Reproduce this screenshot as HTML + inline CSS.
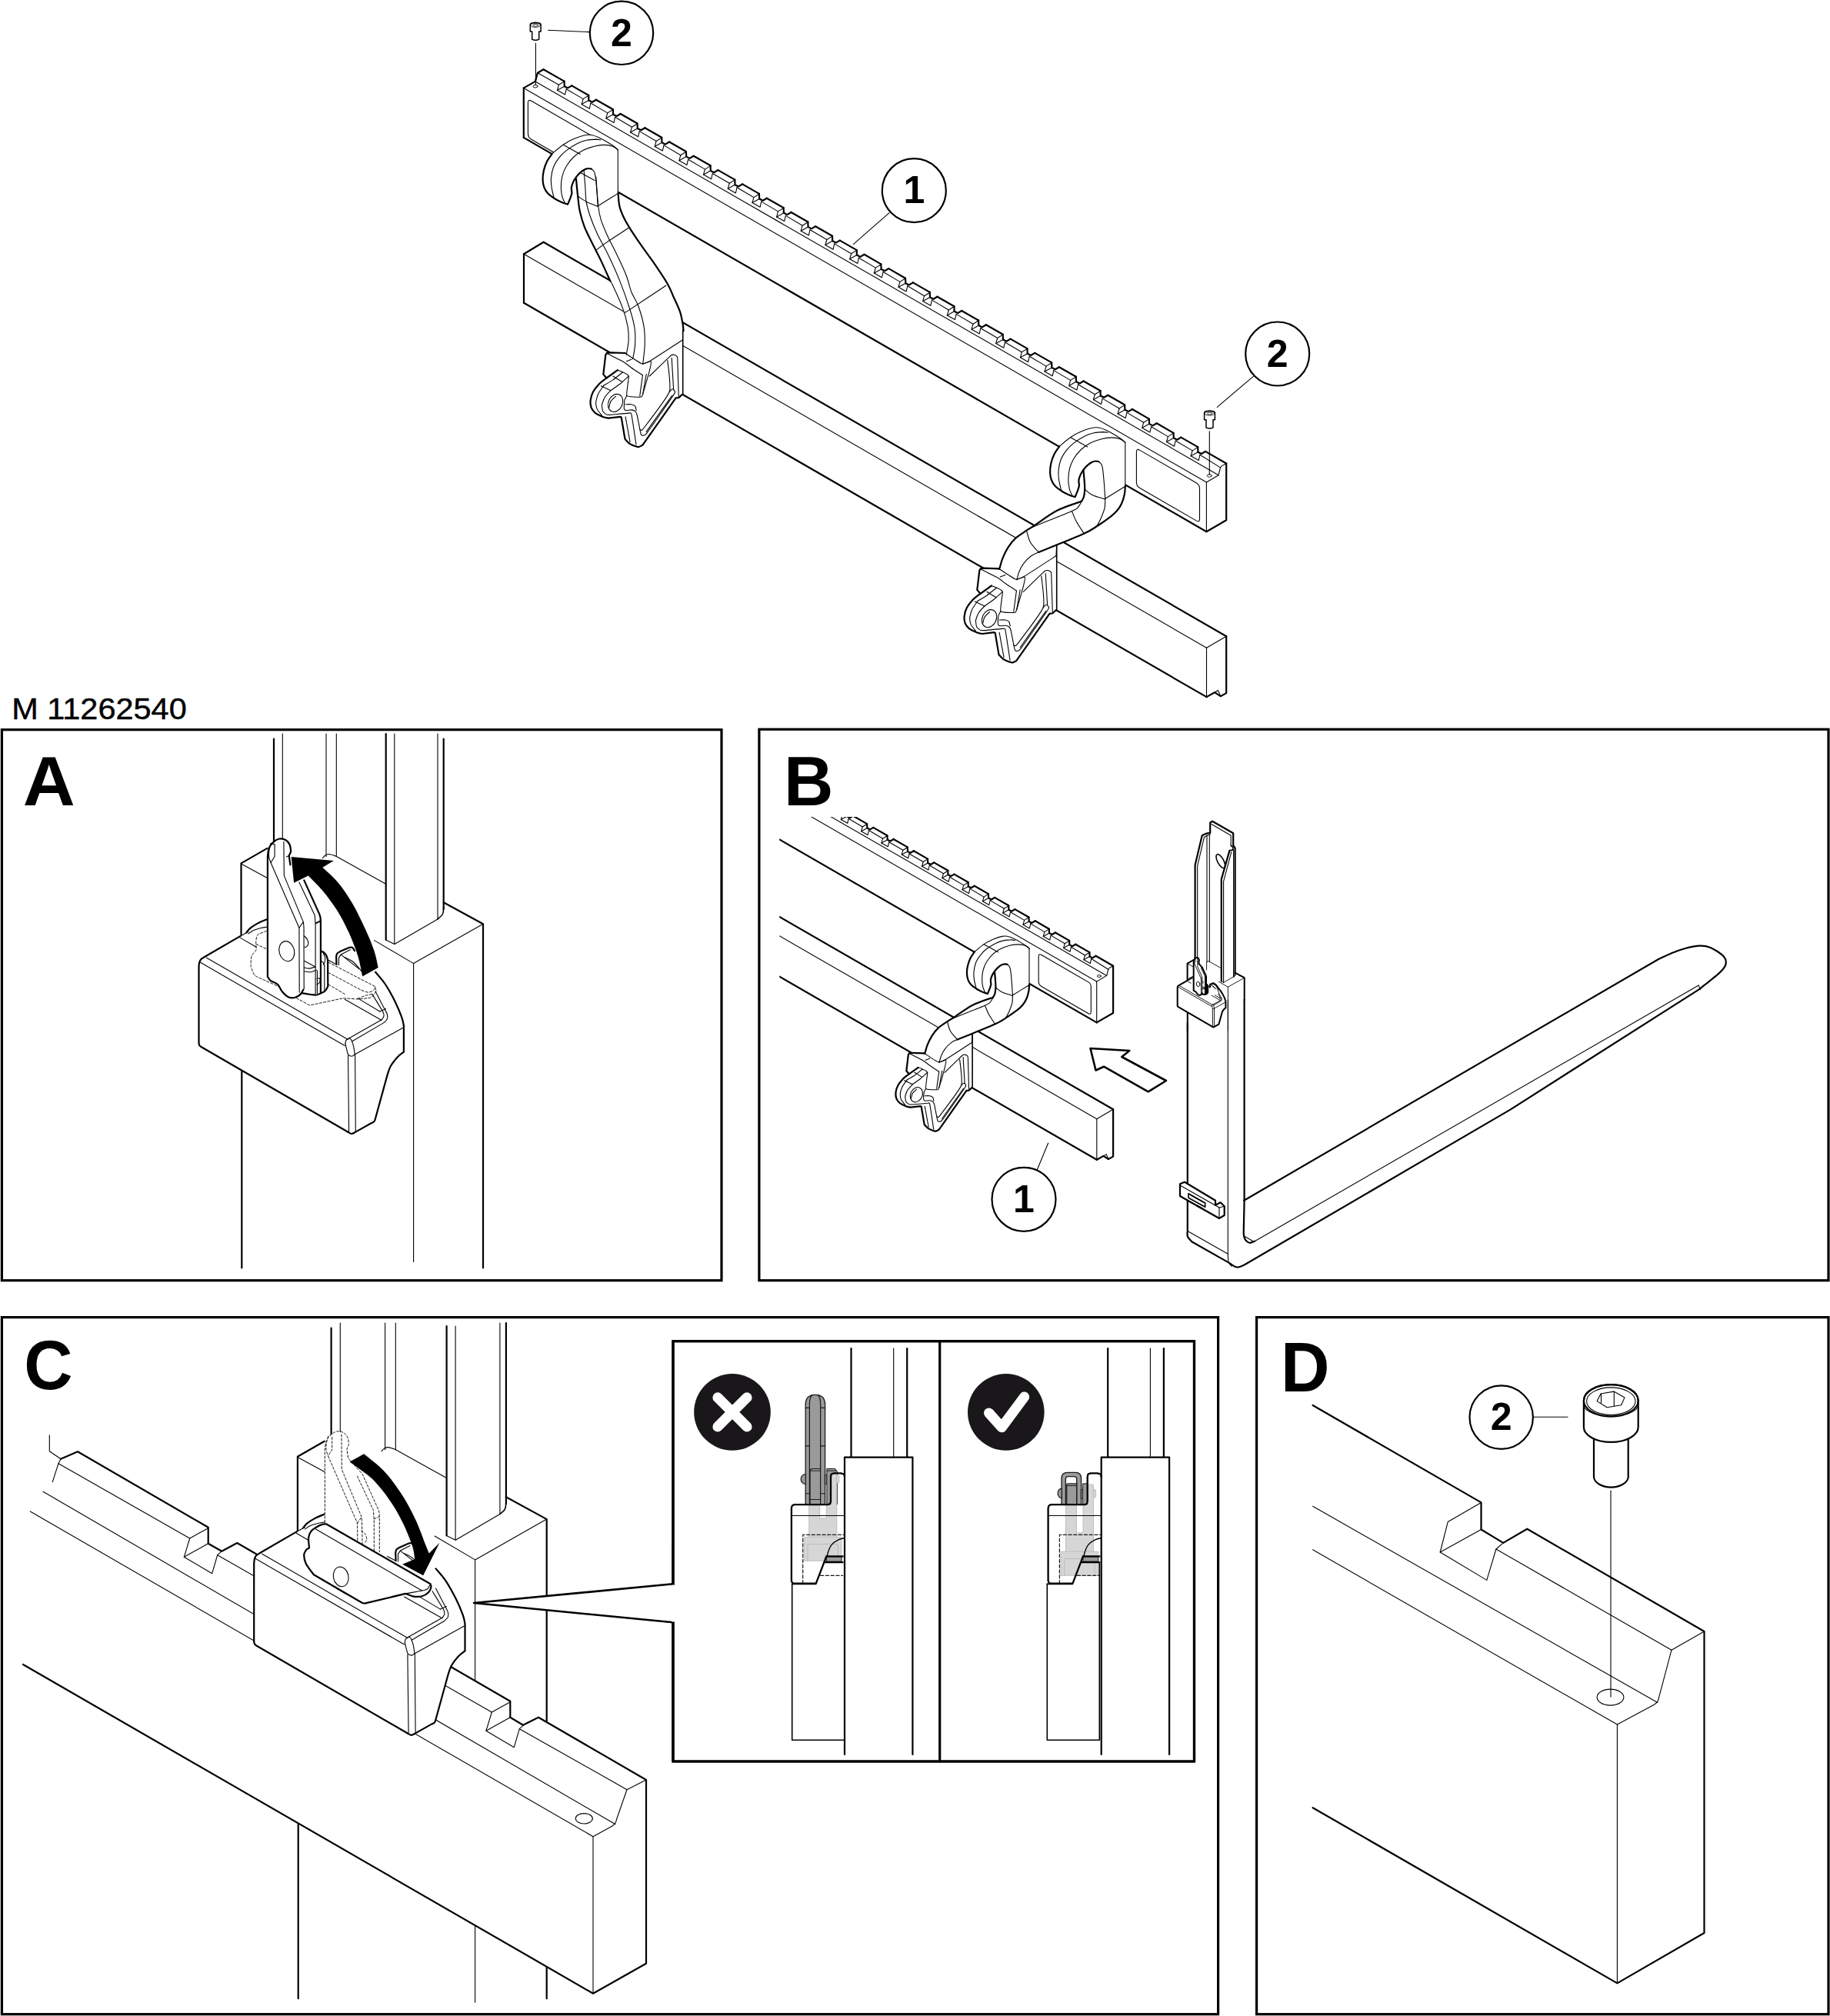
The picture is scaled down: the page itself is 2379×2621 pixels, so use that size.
<!DOCTYPE html>
<html><head><meta charset="utf-8"><title>M 11262540</title>
<style>html,body{margin:0;padding:0;background:#fff}svg{display:block}text{font-family:"Liberation Sans",sans-serif;fill:#000}</style>
</head><body>
<svg width="2379" height="2621" viewBox="0 0 2379 2621" stroke-linejoin="round" stroke-linecap="round">
<rect width="2379" height="2621" fill="#fff"/>
<!-- p00_frames -->
<rect x="2.4" y="948.7" width="935.6" height="716" fill="none" stroke="#000" stroke-width="3.2" stroke-linejoin="miter"/>
<rect x="986.9" y="948.2" width="1390.1" height="716.5" fill="none" stroke="#000" stroke-width="3.2" stroke-linejoin="miter"/>
<rect x="2.4" y="1712.6" width="1581.2" height="906.1" fill="none" stroke="#000" stroke-width="3.2" stroke-linejoin="miter"/>
<rect x="1633.6" y="1712.6" width="743.4" height="906.1" fill="none" stroke="#000" stroke-width="3.2" stroke-linejoin="miter"/>
<text transform="translate(15.3 935) scale(1.074 1)" font-size="38.6" stroke="#000" stroke-width="0.45">M 11262540</text>
<text transform="translate(29.7 1046.7) scale(1.040 1)" font-size="90.5" font-weight="bold" text-anchor="start">A</text>
<text transform="translate(1019.1 1046.8) scale(0.986 1)" font-size="90.5" font-weight="bold" text-anchor="start">B</text>
<text transform="translate(31.3 1806.3) scale(0.967 1)" font-size="90.5" font-weight="bold" text-anchor="start">C</text>
<text transform="translate(1665 1809) scale(0.972 1)" font-size="90.5" font-weight="bold" text-anchor="start">D</text>
<!-- p10_top -->
<path d="M680.8,114.4 L695.9,105.9 L698.9,94.8 L706.5,90.2 L1594.2,602.5 L1594.2,676.2 L1568.4,691.2 L680.8,178.9Z" fill="#fff"/>
<path d="M733.5,105.6 L733.8,112.2 L738.2,114.4 L743.3,111.4" fill="none" stroke="#000" stroke-width="2.2"/>
<path d="M733.5,105.9 L726.4,110.3 L724.5,117.3 L734.6,123 L736.2,115.8" fill="none" stroke="#000" stroke-width="1.1"/>
<path d="M724.5,117.3 L733.8,112.2" fill="none" stroke="#000" stroke-width="1.1"/>
<path d="M765.2,123.9 L765.4,130.4 L769.9,132.7 L775,129.7" fill="none" stroke="#000" stroke-width="2.2"/>
<path d="M765.2,124.2 L758.1,128.6 L756.1,135.6 L766.3,141.3 L767.9,134" fill="none" stroke="#000" stroke-width="1.1"/>
<path d="M756.1,135.6 L765.4,130.4" fill="none" stroke="#000" stroke-width="1.1"/>
<path d="M796.9,142.2 L797.1,148.7 L801.6,151 L806.7,148" fill="none" stroke="#000" stroke-width="2.2"/>
<path d="M796.9,142.5 L789.8,146.9 L787.8,153.8 L798,159.6 L799.6,152.3" fill="none" stroke="#000" stroke-width="1.1"/>
<path d="M787.8,153.8 L797.1,148.7" fill="none" stroke="#000" stroke-width="1.1"/>
<path d="M828.5,160.5 L828.8,167 L833.3,169.3 L838.4,166.2" fill="none" stroke="#000" stroke-width="2.2"/>
<path d="M828.5,160.8 L821.5,165.2 L819.5,172.1 L829.6,177.8 L831.3,170.6" fill="none" stroke="#000" stroke-width="1.1"/>
<path d="M819.5,172.1 L828.8,167" fill="none" stroke="#000" stroke-width="1.1"/>
<path d="M860.2,178.8 L860.5,185.3 L864.9,187.6 L870.1,184.5" fill="none" stroke="#000" stroke-width="2.2"/>
<path d="M860.2,179.1 L853.1,183.5 L851.2,190.4 L861.3,196.1 L863,188.9" fill="none" stroke="#000" stroke-width="1.1"/>
<path d="M851.2,190.4 L860.5,185.3" fill="none" stroke="#000" stroke-width="1.1"/>
<path d="M891.9,197 L892.2,203.6 L896.6,205.9 L901.7,202.8" fill="none" stroke="#000" stroke-width="2.2"/>
<path d="M891.9,197.3 L884.8,201.8 L882.9,208.7 L893,214.4 L894.6,207.2" fill="none" stroke="#000" stroke-width="1.1"/>
<path d="M882.9,208.7 L892.2,203.6" fill="none" stroke="#000" stroke-width="1.1"/>
<path d="M923.6,215.3 L923.8,221.9 L928.3,224.2 L933.4,221.1" fill="none" stroke="#000" stroke-width="2.2"/>
<path d="M923.6,215.6 L916.5,220.1 L914.5,227 L924.7,232.7 L926.3,225.5" fill="none" stroke="#000" stroke-width="1.1"/>
<path d="M914.5,227 L923.8,221.9" fill="none" stroke="#000" stroke-width="1.1"/>
<path d="M955.3,233.6 L955.5,240.2 L960,242.5 L965.1,239.4" fill="none" stroke="#000" stroke-width="2.2"/>
<path d="M955.3,233.9 L948.2,238.3 L946.2,245.3 L956.4,251 L958,243.8" fill="none" stroke="#000" stroke-width="1.1"/>
<path d="M946.2,245.3 L955.5,240.2" fill="none" stroke="#000" stroke-width="1.1"/>
<path d="M986.9,251.9 L987.2,258.5 L991.7,260.8 L996.8,257.7" fill="none" stroke="#000" stroke-width="2.2"/>
<path d="M986.9,252.2 L979.9,256.6 L977.9,263.6 L988.1,269.3 L989.7,262.1" fill="none" stroke="#000" stroke-width="1.1"/>
<path d="M977.9,263.6 L987.2,258.5" fill="none" stroke="#000" stroke-width="1.1"/>
<path d="M1018.6,270.2 L1018.9,276.8 L1023.3,279.1 L1028.5,276" fill="none" stroke="#000" stroke-width="2.2"/>
<path d="M1018.6,270.5 L1011.5,274.9 L1009.6,281.9 L1019.7,287.6 L1021.4,280.4" fill="none" stroke="#000" stroke-width="1.1"/>
<path d="M1009.6,281.9 L1018.9,276.8" fill="none" stroke="#000" stroke-width="1.1"/>
<path d="M1050.3,288.5 L1050.6,295.1 L1055,297.4 L1060.1,294.3" fill="none" stroke="#000" stroke-width="2.2"/>
<path d="M1050.3,288.8 L1043.2,293.2 L1041.2,300.2 L1051.4,305.9 L1053,298.7" fill="none" stroke="#000" stroke-width="1.1"/>
<path d="M1041.2,300.2 L1050.6,295.1" fill="none" stroke="#000" stroke-width="1.1"/>
<path d="M1082,306.8 L1082.2,313.3 L1086.7,315.6 L1091.8,312.6" fill="none" stroke="#000" stroke-width="2.2"/>
<path d="M1082,307.1 L1074.9,311.5 L1072.9,318.5 L1083.1,324.2 L1084.7,316.9" fill="none" stroke="#000" stroke-width="1.1"/>
<path d="M1072.9,318.5 L1082.2,313.3" fill="none" stroke="#000" stroke-width="1.1"/>
<path d="M1113.7,325.1 L1113.9,331.6 L1118.4,333.9 L1123.5,330.8" fill="none" stroke="#000" stroke-width="2.2"/>
<path d="M1113.7,325.4 L1106.6,329.8 L1104.6,336.8 L1114.8,342.5 L1116.4,335.2" fill="none" stroke="#000" stroke-width="1.1"/>
<path d="M1104.6,336.8 L1113.9,331.6" fill="none" stroke="#000" stroke-width="1.1"/>
<path d="M1145.3,343.4 L1145.6,349.9 L1150.1,352.2 L1155.2,349.1" fill="none" stroke="#000" stroke-width="2.2"/>
<path d="M1145.3,343.7 L1138.3,348.1 L1136.3,355 L1146.4,360.8 L1148.1,353.5" fill="none" stroke="#000" stroke-width="1.1"/>
<path d="M1136.3,355 L1145.6,349.9" fill="none" stroke="#000" stroke-width="1.1"/>
<path d="M1177,361.7 L1177.3,368.2 L1181.7,370.5 L1186.9,367.4" fill="none" stroke="#000" stroke-width="2.2"/>
<path d="M1177,362 L1169.9,366.4 L1168,373.3 L1178.1,379 L1179.8,371.8" fill="none" stroke="#000" stroke-width="1.1"/>
<path d="M1168,373.3 L1177.3,368.2" fill="none" stroke="#000" stroke-width="1.1"/>
<path d="M1208.7,379.9 L1209,386.5 L1213.4,388.8 L1218.5,385.7" fill="none" stroke="#000" stroke-width="2.2"/>
<path d="M1208.7,380.2 L1201.6,384.7 L1199.7,391.6 L1209.8,397.3 L1211.5,390.1" fill="none" stroke="#000" stroke-width="1.1"/>
<path d="M1199.7,391.6 L1209,386.5" fill="none" stroke="#000" stroke-width="1.1"/>
<path d="M1240.4,398.2 L1240.6,404.8 L1245.1,407.1 L1250.2,404" fill="none" stroke="#000" stroke-width="2.2"/>
<path d="M1240.4,398.5 L1233.3,403 L1231.3,409.9 L1241.5,415.6 L1243.1,408.4" fill="none" stroke="#000" stroke-width="1.1"/>
<path d="M1231.3,409.9 L1240.6,404.8" fill="none" stroke="#000" stroke-width="1.1"/>
<path d="M1272.1,416.5 L1272.3,423.1 L1276.8,425.4 L1281.9,422.3" fill="none" stroke="#000" stroke-width="2.2"/>
<path d="M1272.1,416.8 L1265,421.2 L1263,428.2 L1273.2,433.9 L1274.8,426.7" fill="none" stroke="#000" stroke-width="1.1"/>
<path d="M1263,428.2 L1272.3,423.1" fill="none" stroke="#000" stroke-width="1.1"/>
<path d="M1303.7,434.8 L1304,441.4 L1308.5,443.7 L1313.6,440.6" fill="none" stroke="#000" stroke-width="2.2"/>
<path d="M1303.7,435.1 L1296.7,439.5 L1294.7,446.5 L1304.8,452.2 L1306.5,445" fill="none" stroke="#000" stroke-width="1.1"/>
<path d="M1294.7,446.5 L1304,441.4" fill="none" stroke="#000" stroke-width="1.1"/>
<path d="M1335.4,453.1 L1335.7,459.7 L1340.1,462 L1345.3,458.9" fill="none" stroke="#000" stroke-width="2.2"/>
<path d="M1335.4,453.4 L1328.3,457.8 L1326.4,464.8 L1336.5,470.5 L1338.2,463.3" fill="none" stroke="#000" stroke-width="1.1"/>
<path d="M1326.4,464.8 L1335.7,459.7" fill="none" stroke="#000" stroke-width="1.1"/>
<path d="M1367.1,471.4 L1367.4,478 L1371.8,480.2 L1376.9,477.2" fill="none" stroke="#000" stroke-width="2.2"/>
<path d="M1367.1,471.7 L1360,476.1 L1358,483.1 L1368.2,488.8 L1369.8,481.6" fill="none" stroke="#000" stroke-width="1.1"/>
<path d="M1358,483.1 L1367.4,478" fill="none" stroke="#000" stroke-width="1.1"/>
<path d="M1398.8,489.7 L1399,496.2 L1403.5,498.5 L1408.6,495.5" fill="none" stroke="#000" stroke-width="2.2"/>
<path d="M1398.8,490 L1391.7,494.4 L1389.7,501.4 L1399.9,507.1 L1401.5,499.8" fill="none" stroke="#000" stroke-width="1.1"/>
<path d="M1389.7,501.4 L1399,496.2" fill="none" stroke="#000" stroke-width="1.1"/>
<path d="M1430.5,508 L1430.7,514.5 L1435.2,516.8 L1440.3,513.8" fill="none" stroke="#000" stroke-width="2.2"/>
<path d="M1430.5,508.3 L1423.4,512.7 L1421.4,519.6 L1431.6,525.4 L1433.2,518.1" fill="none" stroke="#000" stroke-width="1.1"/>
<path d="M1421.4,519.6 L1430.7,514.5" fill="none" stroke="#000" stroke-width="1.1"/>
<path d="M1462.1,526.3 L1462.4,532.8 L1466.9,535.1 L1472,532" fill="none" stroke="#000" stroke-width="2.2"/>
<path d="M1462.1,526.6 L1455.1,531 L1453.1,537.9 L1463.2,543.6 L1464.9,536.4" fill="none" stroke="#000" stroke-width="1.1"/>
<path d="M1453.1,537.9 L1462.4,532.8" fill="none" stroke="#000" stroke-width="1.1"/>
<path d="M1493.8,544.6 L1494.1,551.1 L1498.5,553.4 L1503.7,550.3" fill="none" stroke="#000" stroke-width="2.2"/>
<path d="M1493.8,544.9 L1486.7,549.3 L1484.8,556.2 L1494.9,561.9 L1496.6,554.7" fill="none" stroke="#000" stroke-width="1.1"/>
<path d="M1484.8,556.2 L1494.1,551.1" fill="none" stroke="#000" stroke-width="1.1"/>
<path d="M1525.5,562.9 L1525.8,569.4 L1530.2,571.7 L1535.3,568.6" fill="none" stroke="#000" stroke-width="2.2"/>
<path d="M1525.5,563.1 L1518.4,567.6 L1516.5,574.5 L1526.6,580.2 L1528.2,573" fill="none" stroke="#000" stroke-width="1.1"/>
<path d="M1516.5,574.5 L1525.8,569.4" fill="none" stroke="#000" stroke-width="1.1"/>
<path d="M1557.2,581.1 L1557.4,587.7 L1561.9,590 L1567,586.9" fill="none" stroke="#000" stroke-width="2.2"/>
<path d="M1557.2,581.4 L1550.1,585.9 L1548.1,592.8 L1558.3,598.5 L1559.9,591.3" fill="none" stroke="#000" stroke-width="1.1"/>
<path d="M1548.1,592.8 L1557.4,587.7" fill="none" stroke="#000" stroke-width="1.1"/>
<path d="M706.5,90.2 L733.5,105.6" fill="none" stroke="#000" stroke-width="2.2"/>
<path d="M698.9,94.8 L726.4,110.3" fill="none" stroke="#000" stroke-width="1.1"/>
<path d="M743.3,111.4 L765.2,123.9" fill="none" stroke="#000" stroke-width="2.2"/>
<path d="M736.2,115.8 L758.1,128.6" fill="none" stroke="#000" stroke-width="1.1"/>
<path d="M775,129.7 L796.9,142.2" fill="none" stroke="#000" stroke-width="2.2"/>
<path d="M767.9,134 L789.8,146.9" fill="none" stroke="#000" stroke-width="1.1"/>
<path d="M806.7,148 L828.5,160.5" fill="none" stroke="#000" stroke-width="2.2"/>
<path d="M799.6,152.3 L821.5,165.2" fill="none" stroke="#000" stroke-width="1.1"/>
<path d="M838.4,166.2 L860.2,178.8" fill="none" stroke="#000" stroke-width="2.2"/>
<path d="M831.3,170.6 L853.1,183.5" fill="none" stroke="#000" stroke-width="1.1"/>
<path d="M870.1,184.5 L891.9,197" fill="none" stroke="#000" stroke-width="2.2"/>
<path d="M863,188.9 L884.8,201.8" fill="none" stroke="#000" stroke-width="1.1"/>
<path d="M901.7,202.8 L923.6,215.3" fill="none" stroke="#000" stroke-width="2.2"/>
<path d="M894.6,207.2 L916.5,220.1" fill="none" stroke="#000" stroke-width="1.1"/>
<path d="M933.4,221.1 L955.3,233.6" fill="none" stroke="#000" stroke-width="2.2"/>
<path d="M926.3,225.5 L948.2,238.3" fill="none" stroke="#000" stroke-width="1.1"/>
<path d="M965.1,239.4 L986.9,251.9" fill="none" stroke="#000" stroke-width="2.2"/>
<path d="M958,243.8 L979.9,256.6" fill="none" stroke="#000" stroke-width="1.1"/>
<path d="M996.8,257.7 L1018.6,270.2" fill="none" stroke="#000" stroke-width="2.2"/>
<path d="M989.7,262.1 L1011.5,274.9" fill="none" stroke="#000" stroke-width="1.1"/>
<path d="M1028.5,276 L1050.3,288.5" fill="none" stroke="#000" stroke-width="2.2"/>
<path d="M1021.4,280.4 L1043.2,293.2" fill="none" stroke="#000" stroke-width="1.1"/>
<path d="M1060.1,294.3 L1082,306.8" fill="none" stroke="#000" stroke-width="2.2"/>
<path d="M1053,298.7 L1074.9,311.5" fill="none" stroke="#000" stroke-width="1.1"/>
<path d="M1091.8,312.6 L1113.7,325.1" fill="none" stroke="#000" stroke-width="2.2"/>
<path d="M1084.7,316.9 L1106.6,329.8" fill="none" stroke="#000" stroke-width="1.1"/>
<path d="M1123.5,330.8 L1145.3,343.4" fill="none" stroke="#000" stroke-width="2.2"/>
<path d="M1116.4,335.2 L1138.3,348.1" fill="none" stroke="#000" stroke-width="1.1"/>
<path d="M1155.2,349.1 L1177,361.7" fill="none" stroke="#000" stroke-width="2.2"/>
<path d="M1148.1,353.5 L1169.9,366.4" fill="none" stroke="#000" stroke-width="1.1"/>
<path d="M1186.9,367.4 L1208.7,379.9" fill="none" stroke="#000" stroke-width="2.2"/>
<path d="M1179.8,371.8 L1201.6,384.7" fill="none" stroke="#000" stroke-width="1.1"/>
<path d="M1218.5,385.7 L1240.4,398.2" fill="none" stroke="#000" stroke-width="2.2"/>
<path d="M1211.5,390.1 L1233.3,403" fill="none" stroke="#000" stroke-width="1.1"/>
<path d="M1250.2,404 L1272.1,416.5" fill="none" stroke="#000" stroke-width="2.2"/>
<path d="M1243.1,408.4 L1265,421.2" fill="none" stroke="#000" stroke-width="1.1"/>
<path d="M1281.9,422.3 L1303.7,434.8" fill="none" stroke="#000" stroke-width="2.2"/>
<path d="M1274.8,426.7 L1296.7,439.5" fill="none" stroke="#000" stroke-width="1.1"/>
<path d="M1313.6,440.6 L1335.4,453.1" fill="none" stroke="#000" stroke-width="2.2"/>
<path d="M1306.5,445 L1328.3,457.8" fill="none" stroke="#000" stroke-width="1.1"/>
<path d="M1345.3,458.9 L1367.1,471.4" fill="none" stroke="#000" stroke-width="2.2"/>
<path d="M1338.2,463.3 L1360,476.1" fill="none" stroke="#000" stroke-width="1.1"/>
<path d="M1376.9,477.2 L1398.8,489.7" fill="none" stroke="#000" stroke-width="2.2"/>
<path d="M1369.8,481.6 L1391.7,494.4" fill="none" stroke="#000" stroke-width="1.1"/>
<path d="M1408.6,495.5 L1430.5,508" fill="none" stroke="#000" stroke-width="2.2"/>
<path d="M1401.5,499.8 L1423.4,512.7" fill="none" stroke="#000" stroke-width="1.1"/>
<path d="M1440.3,513.8 L1462.1,526.3" fill="none" stroke="#000" stroke-width="2.2"/>
<path d="M1433.2,518.1 L1455.1,531" fill="none" stroke="#000" stroke-width="1.1"/>
<path d="M1472,532 L1493.8,544.6" fill="none" stroke="#000" stroke-width="2.2"/>
<path d="M1464.9,536.4 L1486.7,549.3" fill="none" stroke="#000" stroke-width="1.1"/>
<path d="M1503.7,550.3 L1525.5,562.9" fill="none" stroke="#000" stroke-width="2.2"/>
<path d="M1496.6,554.7 L1518.4,567.6" fill="none" stroke="#000" stroke-width="1.1"/>
<path d="M1535.3,568.6 L1557.2,581.1" fill="none" stroke="#000" stroke-width="2.2"/>
<path d="M1528.2,573 L1550.1,585.9" fill="none" stroke="#000" stroke-width="1.1"/>
<path d="M1567,586.9 L1594.2,602.5" fill="none" stroke="#000" stroke-width="2.2"/>
<path d="M1559.9,591.3 L1586.5,607.9" fill="none" stroke="#000" stroke-width="1.1"/>
<path d="M1568.4,627 L1584.1,617.7 L1586.5,607.9" fill="none" stroke="#000" stroke-width="1.1"/>
<path d="M1586.5,607.9 C1586.8,607.5 1587.7,606.2 1588.5,605.6 C1589.3,605 1590.5,604.5 1591.5,604 C1592.5,603.5 1593.8,602.8 1594.2,602.5" fill="none" stroke="#000" stroke-width="1.1"/>
<path d="M1568.4,627 L1568.4,691.2" fill="none" stroke="#000" stroke-width="1.1"/>
<path d="M1568.4,691.2 L1594.2,676.2 L1594.2,602.5" fill="none" stroke="#000" stroke-width="2.2"/>
<ellipse cx="1572.3" cy="618.4" rx="3" ry="1.8" transform="rotate(0 1572.3 618.4)" fill="none" stroke="#000" stroke-width="0.9"/>
<path d="M1477.4,587.8 Q1477.4,582.8 1481.4,585.1099999999999 L1555.5,627.90275 Q1559.5,630.2127499999999 1559.5,635.2127499999999 L1559.5,674.41275 Q1559.5,679.41275 1555.5,677.10275 L1481.4,634.31 Q1477.4,632.0 1477.4,627.0Z" fill="none" stroke="#000" stroke-width="1.1"/>
<path d="M680.8,114.4 L680.8,178.9" fill="none" stroke="#000" stroke-width="2.2"/>
<path d="M680.8,114.4 L695.9,105.9 L698.9,94.8 L706.5,90.2" fill="none" stroke="#000" stroke-width="2.2"/>
<path d="M680.8,114.4 L1568.4,627" fill="none" stroke="#000" stroke-width="1.1"/>
<path d="M695.9,105.9 L1584.1,617.7" fill="none" stroke="#000" stroke-width="1.1"/>
<path d="M680.8,178.9 L1568.4,691.2" fill="none" stroke="#000" stroke-width="2.2"/>
<ellipse cx="696" cy="112.2" rx="3" ry="1.8" transform="rotate(0 696 112.2)" fill="none" stroke="#000" stroke-width="0.9"/>
<path d="M770,177.1 L690.4,131.1 Q686.4,128.8 686.4,133.8 L686.4,172.8 Q686.4,178.8 690.4,181.1 L730,204" fill="none" stroke="#000" stroke-width="1.1"/>
<path d="M681,330.2 L706.6,314.8 L1594.2,827.2 L1594.2,901.1 L1586.7,905.2 L1579,900.2 L1568.5,906.1 L681,393.7Z" fill="#fff"/>
<path d="M681,330.2 L681,393.7" fill="none" stroke="#000" stroke-width="2.2"/>
<path d="M681,330.2 L706.6,314.8" fill="none" stroke="#000" stroke-width="2.2"/>
<path d="M706.6,314.8 L1594.2,827.2" fill="none" stroke="#000" stroke-width="2.2"/>
<path d="M681,330.2 L1568.5,842.2" fill="none" stroke="#000" stroke-width="1.1"/>
<path d="M681,393.7 L1568.5,906.1" fill="none" stroke="#000" stroke-width="2.2"/>
<path d="M1568.5,842.2 L1568.5,906.1" fill="none" stroke="#000" stroke-width="1.1"/>
<path d="M1568.5,842.2 L1594.2,827.2" fill="none" stroke="#000" stroke-width="1.1"/>
<path d="M1594.2,827.2 L1594.2,901.1 L1586.7,905.2 L1579,900.2 L1568.5,906.1" fill="none" stroke="#000" stroke-width="2.2"/>
<path d="M1579,900.2 L1583.5,897.5 L1586.7,905.2" fill="none" stroke="#000" stroke-width="1.1"/>
<path d="M717.7,199.8 L732.7,187.8 L745.9,180.5 L760.3,175.7 L768.8,175.5 L778.4,178.7 L790.4,185.3 L801.2,192.6 L803.3,195 L803.3,251.5 L805.4,268.2 L811.4,283.8 L819.8,298.3 L834.3,319.9 L852.3,345.1 L867.9,369.2 L875.7,386.2 L883.9,404.9 L887.5,420.5 L888.5,430.1 L887.7,429.5 L887.7,513.1 L886.5,513.1 L882.3,517.1 L878.6,517.3 L835.4,578.6 L830.6,581 L827,580.4 L818.5,576.8 L812.5,570.8 L807.7,542.5 L806.5,541.9 L790.9,543.7 L783.7,541.9 L774.1,537.1 L768.6,529.9 L767.7,520.3 L771,509.5 L778.9,499.3 L788.5,491.5 L788.5,491.5 L788.5,491.5 L784.3,486.6 L787.3,461.4 L789.1,458.6 L792.7,458.4 L814.2,461.4 L817.2,442.1 L816,424.1 L809.3,400.1 L796.1,370 L793.4,365.6 L793.4,365.6 L781.4,339.1 L769.3,315.1 L759.7,294.6 L753.7,274.2 L751.3,256.2 L748.9,232.1 L748.9,230.4 L745.3,236.4 L742.9,243.7 L743.5,250.9 L743.5,250.9 L741.7,256.9 L738.1,265.7 L738.1,265.7 L730.3,262.9 L721.9,258.7 L712.3,251.5 L707.4,243.7 L705.6,234 L706.8,222 L711,210 L717.7,199.8Z" fill="#fff"/>
<path d="M717.7,199.8 C720.2,197.8 728,191 732.7,187.8 C737.4,184.5 741.3,182.5 745.9,180.5 C750.5,178.5 756.5,176.6 760.3,175.7 C764.1,174.9 765.7,175 768.8,175.5 C771.8,176 774.8,177.1 778.4,178.7 C782,180.4 786.6,183 790.4,185.3 C794.2,187.7 799.1,191 801.2,192.6 C803.4,194.2 802.9,194.6 803.3,195" fill="none" stroke="#000" stroke-width="1.1"/>
<path d="M720.1,256.9 C719.6,254.7 717.7,247.9 717.1,243.7 C716.5,239.4 716.1,236 716.5,231.6 C716.9,227.2 717.8,221.6 719.5,217.2 C721.2,212.8 723.9,208.8 726.7,205.2 C729.5,201.6 732.3,198.7 736.3,195.6 C740.3,192.5 746.3,188.8 750.7,186.5 C755.1,184.3 758.7,183.2 762.7,182.3 C766.8,181.4 771.8,181.2 774.8,181.1 C777.8,181.1 779.8,181.8 780.8,182" fill="none" stroke="#000" stroke-width="1.1"/>
<path d="M734.5,264.3 C733.9,262.9 731.7,259.1 730.9,255.7 C730,252.2 729.3,248.1 729.3,243.7 C729.3,239.2 729.7,233.8 730.9,229.2 C732,224.6 733.8,220.2 736.3,216 C738.8,211.8 742.3,207.4 745.9,204 C749.5,200.6 753.5,197.9 757.9,195.6 C762.3,193.3 767.8,191.4 772.4,190.2 C777,189 781.6,188.4 785.6,188.4 C789.6,188.4 793.5,189.1 796.4,190.2 C799.4,191.3 802.1,194.2 803.3,195" fill="none" stroke="#000" stroke-width="1.1"/>
<path d="M732.7,188.4 L743.5,194.4 L754.3,200.4" fill="none" stroke="#000" stroke-width="1.1"/>
<path d="M803.3,195 L803.3,251.5" fill="none" stroke="#000" stroke-width="1.1"/>
<path d="M768.8,219.6 C769.4,220.2 771.5,221.4 772.4,223.2 C773.3,225 773.6,226 774.2,230.4 C774.8,234.8 775.5,243.5 776,249.7 C776.5,255.9 777,264.7 777.2,267.7" fill="none" stroke="#000" stroke-width="1.1"/>
<path d="M717.7,199.8 C716.6,201.5 712.9,206.3 711,210 C709.2,213.7 707.7,218 706.8,222 C705.9,226 705.5,230.4 705.6,234 C705.7,237.6 706.3,240.7 707.4,243.7 C708.5,246.6 709.8,249 712.3,251.5 C714.7,254 718.9,256.8 721.9,258.7 C724.9,260.6 727.6,261.7 730.3,262.9 C733,264.1 736.8,265.2 738.1,265.7 L741.7,256.9 L743.5,250.9 C743.4,249.7 742.6,246.1 742.9,243.7 C743.2,241.3 744.3,238.6 745.3,236.4 C746.3,234.2 747.4,232.4 748.9,230.4 C750.4,228.4 752.4,226.1 754.3,224.4 C756.2,222.7 758.5,221.1 760.3,220.2 C762.1,219.3 763.7,219.1 765.1,219 C766.6,218.9 768.2,219.5 768.8,219.6" fill="none" stroke="#000" stroke-width="2.2"/>
<path d="M812.5,459 L792.7,458.4 L789.1,458.6 L787.3,461.4 L784.3,486.6 L788.5,491.5" fill="none" stroke="#000" stroke-width="2.2"/>
<path d="M802.9,481.2 L788.5,491.5 C786.9,492.8 781.8,496.3 778.9,499.3 C776,502.3 772.9,506 771,509.5 C769.2,513 768.1,516.9 767.7,520.3 C767.3,523.7 767.6,527.1 768.6,529.9 C769.7,532.7 771.6,535.1 774.1,537.1 C776.6,539.1 780.9,540.8 783.7,541.9 C786.5,543 789.7,543.4 790.9,543.7 L806.5,541.9 L807.7,542.5 L812.5,570.8 C813.5,571.8 816.1,575.2 818.5,576.8 C820.9,578.4 824.9,579.7 827,580.4 C829,581.1 829.2,581.3 830.6,581 C832,580.7 834.6,579 835.4,578.6 L878.6,517.3 C879.2,517.3 881,517.8 882.3,517.1 C883.6,516.4 885.8,513.8 886.5,513.1" fill="none" stroke="#000" stroke-width="2.2"/>
<path d="M887.7,429.5 L887.7,513.1" fill="none" stroke="#000" stroke-width="1.6"/>
<path d="M789.1,459.6 C790.9,460.5 808.7,469.5 811.3,471 C814,472.6 818.9,476.8 820.9,478.2 C822.9,479.6 834.2,487 835.4,487.8" fill="none" stroke="#000" stroke-width="1.1"/>
<path d="M812.5,459 C814.3,460.1 831.4,471.9 834.2,472.8 C837,473.7 845.3,469.1 846.2,469.8 C847,470.6 845.3,478.2 844.4,481.8 C843.5,485.4 836.4,510.2 835.4,513.1 C834.4,515.9 834.1,516 832.4,516.1 C830.7,516.2 816.2,516.5 814.9,514.3 C813.7,512 817.8,491.6 817.3,489 C816.8,486.5 810.1,484.3 808.9,483.6 C807.7,483 803.4,481.4 802.9,481.2" fill="none" stroke="#000" stroke-width="1.1"/>
<path d="M814.3,469.8 C814.9,469.6 820.4,467.4 820.9,467.2" fill="none" stroke="#000" stroke-width="1.1"/>
<path d="M887.1,442.2 C883.7,444.4 850.5,466 846.2,468.6 C841.9,471.2 836.3,473 835.4,473.4" fill="none" stroke="#000" stroke-width="1.1"/>
<path d="M844.4,489 C846.2,487.2 864.3,469.7 866.6,467.4 C869,465.2 871.8,462.5 872.6,462 C873.4,461.5 875.6,461.1 876.2,461.2 C876.8,461.3 879.5,462.7 879.8,463.2 C880.2,463.7 880.6,462.3 880.8,466.8 C881,471.3 882.1,512.5 882.3,516.7" fill="none" stroke="#000" stroke-width="1.1"/>
<path d="M867.8,468.6 C868,472 872.8,502.1 870.2,509.5 C867.6,516.8 839.7,552.9 836.6,557 C833.5,561.1 833.6,558.7 833.2,558.8 C832.8,558.9 831.9,558.2 831.8,558.2" fill="none" stroke="#000" stroke-width="1.1"/>
<path d="M873.2,465.2 C873.4,468.6 875.4,502 875.6,505.9 C875.9,509.8 879.5,507.2 876.6,511.9 C873.7,516.6 844.7,557.9 841.4,562.4 C838,566.9 837.3,565.8 836.6,566 C835.9,566.2 833.9,566.6 833.2,564.4 C832.5,562.2 828.8,542 828.2,539.5 C827.5,537.1 826.4,535.3 825.8,534.7 C825.1,534.2 821.9,533 820.9,532.9 C819.9,532.8 814.5,533.7 813.7,533.5 C812.9,533.4 811.5,532.2 811.3,531.1 C811.2,530 811.6,521.7 811.9,520.3 C812.2,518.9 814.7,514.8 814.9,514.3" fill="none" stroke="#000" stroke-width="1.1"/>
<path d="M870.2,509.5 C870.5,509.2 872.8,506.4 873.2,506.1 C873.7,505.8 875.4,505.9 875.6,505.9" fill="none" stroke="#000" stroke-width="1.1"/>
<path d="M873.6,514.3 C870.8,518.2 843,557.5 840.2,561.4" fill="none" stroke="#000" stroke-width="1.1"/>
<path d="M835.4,487.8 C835.1,490.1 832.1,512.3 831.8,514.5" fill="none" stroke="#000" stroke-width="1.1"/>
<path d="M840.2,486.6 C839.8,488.8 836,510.7 835.6,512.8" fill="none" stroke="#000" stroke-width="1.1"/>
<path d="M817.3,489 C816.4,489.8 808.5,497.1 806.5,498.7 C804.6,500.2 794.9,506.9 793.9,507.7" fill="none" stroke="#000" stroke-width="1.1"/>
<path d="M809.5,483.9 C808.5,484.7 799,492.4 796.9,493.9 C794.8,495.3 785.9,500.5 784.9,501.1" fill="none" stroke="#000" stroke-width="1.1"/>
<path d="M796.9,489 C797.9,489.7 807.9,495.9 808.9,496.5" fill="none" stroke="#000" stroke-width="1.1"/>
<path d="M781.3,501.7 C782.3,502.2 792.8,507.2 793.9,507.7" fill="none" stroke="#000" stroke-width="1.1"/>
<path d="M784.9,501.1 C784.3,502 778.5,510.1 777.7,511.9 C776.8,513.7 774.8,521.1 774.7,522.7 C774.5,524.3 775.2,529.7 775.9,531.1 C776.5,532.6 781.9,539.4 782.5,540.1" fill="none" stroke="#000" stroke-width="1.1"/>
<path d="M793.9,507.7 C793.2,508.4 787,515.1 786.1,516.7 C785.1,518.2 782.7,524.8 782.5,526.3 C782.3,527.8 783.2,533.7 783.7,534.7 C784.2,535.8 787.6,538.6 788.5,538.9 C789.4,539.3 792.1,539.4 794.5,539.3 C796.9,539.1 815.1,537.2 817.3,537.1 C819.5,537.1 820.1,535.5 820.9,538.9 C821.7,542.3 826.5,574.8 827,578" fill="none" stroke="#000" stroke-width="1.1"/>
<path d="M813.1,525.7 C813.8,525.7 819.9,525.5 820.9,525.7 C822,525.9 825.2,527.5 825.8,528.1 C826.3,528.8 827.1,533.1 827.2,533.5" fill="none" stroke="#000" stroke-width="1.1"/>
<path d="M813.1,541.9 C813.6,544.7 818.6,571.9 819.1,574.6" fill="none" stroke="#000" stroke-width="1.1"/>
<ellipse cx="800.1" cy="523.9" rx="9.1" ry="12" transform="rotate(25 800.1 523.9)" fill="none" stroke="#000" stroke-width="1.1"/>
<path d="M791.8,529.9 C792.2,528.6 792.4,524.6 793.9,522.1 C795.3,519.7 799.4,516.4 800.5,515.3" fill="none" stroke="#000" stroke-width="1.1"/>
<path d="M748.9,232.1 C749.3,236.1 750.5,249.2 751.3,256.2 C752.1,263.2 752.3,267.8 753.7,274.2 C755.1,280.6 757.1,287.8 759.7,294.6 C762.3,301.5 765.7,307.7 769.3,315.1 C773,322.5 777.4,330.7 781.4,339.1 C785.4,347.5 791.4,361.2 793.4,365.6" fill="none" stroke="#000" stroke-width="2.2"/>
<path d="M793.4,365.6 C793.8,366.3 793.5,364.2 796.1,370 C798.8,375.8 806,391 809.3,400.1 C812.7,409.1 814.7,417.1 816,424.1 C817.3,431.1 817.5,435.9 817.2,442.1 C816.9,448.3 814.7,458.2 814.2,461.4" fill="none" stroke="#000" stroke-width="1.1"/>
<path d="M803.6,251.4 C803.9,254.2 804.1,262.8 805.4,268.2 C806.7,273.6 809,278.8 811.4,283.8 C813.8,288.8 816,292.2 819.8,298.3 C823.6,304.3 828.9,312.1 834.3,319.9 C839.7,327.7 846.7,336.9 852.3,345.1 C857.9,353.4 864,362.3 867.9,369.2 C871.8,376 873,380.3 875.7,386.2 C878.4,392.2 881.9,399.2 883.9,404.9 C885.8,410.6 886.7,416.3 887.5,420.5 C888.3,424.7 888.3,428.5 888.5,430.1" fill="none" stroke="#000" stroke-width="2.2"/>
<path d="M759.1,221.3 C759.4,225.1 760.4,237.3 760.9,244.2 C761.4,251 761.1,256.2 762.1,262.2 C763.1,268.2 764.5,273.2 766.9,280.2 C769.3,287.2 772.6,295.6 776.6,304.3 C780.6,312.9 786.2,321.9 791,331.9 C795.8,341.9 800.7,352.6 805.4,364.4 C810.1,376.1 815.7,392.1 819,402.5 C822.2,412.8 823.9,418.9 825,426.5 C826.1,434.1 826,441.4 825.6,448.1 C825.2,454.9 823.1,463.7 822.6,466.8" fill="none" stroke="#000" stroke-width="1.1"/>
<path d="M774.8,229.7 C775.3,236.1 776.7,258.8 777.8,268.2 C778.9,277.6 779.4,279.8 781.4,286.2 C783.4,292.6 786.6,299.7 789.8,306.7 C793,313.7 796.6,319.9 800.6,328.3 C804.6,336.7 810.4,348.6 813.8,357.2 C817.2,365.8 818.3,373.2 821,380 C823.7,386.7 827.1,390.3 829.8,397.7 C832.4,405 835.6,415.7 837,424.1 C838.4,432.5 838.4,440.1 838.2,448.1 C838,456.2 836.2,468.4 835.8,472.4" fill="none" stroke="#000" stroke-width="1.1"/>
<path d="M751.3,255 C753.1,256.2 757.9,260 762.1,262.2 C766.3,264.4 774.2,267.2 776.6,268.2" fill="none" stroke="#000" stroke-width="1.1"/>
<path d="M776.6,268.2 C781.1,265.4 799.1,254.2 803.6,251.4" fill="none" stroke="#000" stroke-width="1.1"/>
<path d="M774.8,325.3 C777.1,323.6 781.4,320 788.6,315.1 C795.8,310.2 813.1,299.1 818,295.8" fill="none" stroke="#000" stroke-width="1.1"/>
<path d="M865.8,371.2 C857.8,376.5 826.6,397.4 817.8,403.1 C808.9,408.8 813.8,405.1 813,405.5" fill="none" stroke="#000" stroke-width="1.1"/>
<path d="M755.5,224.9 C758.4,226.5 770,232.9 773,234.5" fill="none" stroke="#000" stroke-width="1.1"/>
<path d="M1377.2,580.3 L1392.2,568.3 L1405.4,561 L1419.8,556.2 L1428.3,556 L1437.9,559.2 L1449.9,565.8 L1460.7,573.1 L1462.8,575.5 L1462.8,632 L1461.9,642.2 L1458.3,654.2 L1452.3,663.8 L1443.9,671.6 L1425.8,684.3 L1410.2,693.3 L1381.4,705.3 L1374.2,708.3 L1373.7,709.8 L1373.7,793.4 L1372.5,793.4 L1368.3,797.4 L1364.6,797.6 L1321.4,858.9 L1316.6,861.3 L1313,860.7 L1304.5,857.1 L1298.5,851.1 L1293.7,822.8 L1292.5,822.2 L1276.9,824 L1269.7,822.2 L1260.1,817.4 L1254.6,810.2 L1253.7,800.6 L1257,789.8 L1264.9,779.6 L1274.5,771.8 L1274.5,771.8 L1274.5,771.8 L1270.3,766.9 L1273.3,741.7 L1275.1,738.9 L1278.7,738.7 L1298.5,739.6 L1299.6,738.4 L1303.2,726.3 L1310.4,711.9 L1320.1,699.9 L1334.5,689.7 L1344.1,683.7 L1374.2,663.8 L1406,651.8 L1406,651.8 L1409,645.8 L1410.2,636.2 L1409.6,624.2 L1408.4,610.9 L1408.4,610.9 L1404.8,616.9 L1402.4,624.2 L1403,631.4 L1403,631.4 L1401.2,637.4 L1397.6,646.2 L1397.6,646.2 L1389.8,643.4 L1381.4,639.2 L1371.8,632 L1366.9,624.2 L1365.1,614.5 L1366.3,602.5 L1370.5,590.5 L1377.2,580.3Z" fill="#fff"/>
<path d="M1377.2,580.3 C1379.7,578.3 1387.5,571.5 1392.2,568.3 C1396.9,565 1400.8,563 1405.4,561 C1410,559 1416,557.1 1419.8,556.2 C1423.6,555.4 1425.2,555.5 1428.3,556 C1431.3,556.5 1434.3,557.6 1437.9,559.2 C1441.5,560.9 1446.1,563.5 1449.9,565.8 C1453.7,568.2 1458.6,571.5 1460.7,573.1 C1462.9,574.7 1462.4,575.1 1462.8,575.5" fill="none" stroke="#000" stroke-width="1.1"/>
<path d="M1379.6,637.4 C1379.1,635.2 1377.2,628.4 1376.6,624.2 C1376,619.9 1375.6,616.5 1376,612.1 C1376.4,607.7 1377.3,602.1 1379,597.7 C1380.7,593.3 1383.4,589.3 1386.2,585.7 C1389,582.1 1391.8,579.2 1395.8,576.1 C1399.8,573 1405.8,569.3 1410.2,567 C1414.6,564.8 1418.2,563.7 1422.2,562.8 C1426.3,561.9 1431.3,561.7 1434.3,561.6 C1437.3,561.6 1439.3,562.3 1440.3,562.5" fill="none" stroke="#000" stroke-width="1.1"/>
<path d="M1394,644.8 C1393.4,643.4 1391.2,639.6 1390.4,636.2 C1389.5,632.7 1388.8,628.6 1388.8,624.2 C1388.8,619.7 1389.2,614.3 1390.4,609.7 C1391.5,605.1 1393.3,600.7 1395.8,596.5 C1398.3,592.3 1401.8,587.9 1405.4,584.5 C1409,581.1 1413,578.4 1417.4,576.1 C1421.8,573.8 1427.3,571.9 1431.9,570.7 C1436.5,569.5 1441.1,568.9 1445.1,568.9 C1449.1,568.9 1453,569.6 1455.9,570.7 C1458.9,571.8 1461.6,574.7 1462.8,575.5" fill="none" stroke="#000" stroke-width="1.1"/>
<path d="M1392.2,568.9 L1403,574.9 L1413.8,580.9" fill="none" stroke="#000" stroke-width="1.1"/>
<path d="M1462.8,575.5 L1462.8,632" fill="none" stroke="#000" stroke-width="1.1"/>
<path d="M1428.3,600.1 C1428.9,600.7 1431,601.9 1431.9,603.7 C1432.8,605.5 1433.1,606.5 1433.7,610.9 C1434.3,615.3 1435,624 1435.5,630.2 C1436,636.4 1436.5,645.2 1436.7,648.2" fill="none" stroke="#000" stroke-width="1.1"/>
<path d="M1377.2,580.3 C1376.1,582 1372.4,586.8 1370.5,590.5 C1368.7,594.2 1367.2,598.5 1366.3,602.5 C1365.4,606.5 1365,610.9 1365.1,614.5 C1365.2,618.1 1365.8,621.2 1366.9,624.2 C1368,627.1 1369.3,629.5 1371.8,632 C1374.2,634.5 1378.4,637.3 1381.4,639.2 C1384.4,641.1 1387.1,642.2 1389.8,643.4 C1392.5,644.6 1396.3,645.7 1397.6,646.2 L1401.2,637.4 L1403,631.4 C1402.9,630.2 1402.1,626.6 1402.4,624.2 C1402.7,621.8 1403.8,619.1 1404.8,616.9 C1405.8,614.7 1406.9,612.9 1408.4,610.9 C1409.9,608.9 1411.9,606.6 1413.8,604.9 C1415.7,603.2 1418,601.6 1419.8,600.7 C1421.6,599.8 1423.2,599.6 1424.6,599.5 C1426.1,599.4 1427.7,600 1428.3,600.1" fill="none" stroke="#000" stroke-width="2.2"/>
<path d="M1298.5,739.3 L1278.7,738.7 L1275.1,738.9 L1273.3,741.7 L1270.3,766.9 L1274.5,771.8" fill="none" stroke="#000" stroke-width="2.2"/>
<path d="M1288.9,761.5 L1274.5,771.8 C1272.9,773.1 1267.8,776.6 1264.9,779.6 C1262,782.6 1258.9,786.3 1257,789.8 C1255.2,793.3 1254.1,797.2 1253.7,800.6 C1253.3,804 1253.6,807.4 1254.6,810.2 C1255.7,813 1257.6,815.4 1260.1,817.4 C1262.6,819.4 1266.9,821.1 1269.7,822.2 C1272.5,823.3 1275.7,823.7 1276.9,824 L1292.5,822.2 L1293.7,822.8 L1298.5,851.1 C1299.5,852.1 1302.1,855.5 1304.5,857.1 C1306.9,858.7 1310.9,860 1313,860.7 C1315,861.4 1315.2,861.6 1316.6,861.3 C1318,861 1320.6,859.3 1321.4,858.9 L1364.6,797.6 C1365.2,797.6 1367,798.1 1368.3,797.4 C1369.6,796.7 1371.8,794.1 1372.5,793.4" fill="none" stroke="#000" stroke-width="2.2"/>
<path d="M1373.7,709.8 L1373.7,793.4" fill="none" stroke="#000" stroke-width="1.6"/>
<path d="M1275.1,739.9 C1276.9,740.8 1294.7,749.8 1297.3,751.3 C1300,752.9 1304.9,757.1 1306.9,758.5 C1308.9,759.9 1320.2,767.3 1321.4,768.1" fill="none" stroke="#000" stroke-width="1.1"/>
<path d="M1298.5,739.3 C1300.3,740.4 1317.4,752.2 1320.2,753.1 C1323,754 1331.3,749.4 1332.2,750.1 C1333,750.9 1331.3,758.5 1330.4,762.1 C1329.5,765.7 1322.4,790.5 1321.4,793.4 C1320.4,796.2 1320.1,796.3 1318.4,796.4 C1316.7,796.5 1302.2,796.8 1300.9,794.6 C1299.7,792.3 1303.8,771.9 1303.3,769.3 C1302.8,766.8 1296.1,764.6 1294.9,763.9 C1293.7,763.3 1289.4,761.7 1288.9,761.5" fill="none" stroke="#000" stroke-width="1.1"/>
<path d="M1300.3,750.1 C1300.9,749.9 1306.4,747.7 1306.9,747.5" fill="none" stroke="#000" stroke-width="1.1"/>
<path d="M1373.1,722.5 C1369.7,724.7 1336.5,746.3 1332.2,748.9 C1327.9,751.5 1322.3,753.3 1321.4,753.7" fill="none" stroke="#000" stroke-width="1.1"/>
<path d="M1330.4,769.3 C1332.2,767.5 1350.3,750 1352.6,747.7 C1355,745.5 1357.8,742.8 1358.6,742.3 C1359.4,741.8 1361.6,741.4 1362.2,741.5 C1362.8,741.6 1365.5,743 1365.8,743.5 C1366.2,744 1366.6,742.6 1366.8,747.1 C1367,751.6 1368.1,792.8 1368.3,797" fill="none" stroke="#000" stroke-width="1.1"/>
<path d="M1353.8,748.9 C1354,752.3 1358.8,782.4 1356.2,789.8 C1353.6,797.1 1325.7,833.2 1322.6,837.3 C1319.5,841.4 1319.6,839 1319.2,839.1 C1318.8,839.2 1317.9,838.5 1317.8,838.5" fill="none" stroke="#000" stroke-width="1.1"/>
<path d="M1359.2,745.5 C1359.4,748.9 1361.4,782.3 1361.6,786.2 C1361.9,790.1 1365.5,787.5 1362.6,792.2 C1359.7,796.9 1330.7,838.2 1327.4,842.7 C1324,847.2 1323.3,846.1 1322.6,846.3 C1321.9,846.5 1319.9,846.9 1319.2,844.7 C1318.5,842.5 1314.8,822.3 1314.2,819.8 C1313.5,817.4 1312.4,815.6 1311.8,815 C1311.1,814.5 1307.9,813.3 1306.9,813.2 C1305.9,813.1 1300.5,814 1299.7,813.8 C1298.9,813.7 1297.5,812.5 1297.3,811.4 C1297.2,810.3 1297.6,802 1297.9,800.6 C1298.2,799.2 1300.7,795.1 1300.9,794.6" fill="none" stroke="#000" stroke-width="1.1"/>
<path d="M1356.2,789.8 C1356.5,789.5 1358.8,786.7 1359.2,786.4 C1359.7,786.1 1361.4,786.2 1361.6,786.2" fill="none" stroke="#000" stroke-width="1.1"/>
<path d="M1359.6,794.6 C1356.8,798.5 1329,837.8 1326.2,841.7" fill="none" stroke="#000" stroke-width="1.1"/>
<path d="M1321.4,768.1 C1321.1,770.4 1318.1,792.6 1317.8,794.8" fill="none" stroke="#000" stroke-width="1.1"/>
<path d="M1326.2,766.9 C1325.8,769.1 1322,791 1321.6,793.1" fill="none" stroke="#000" stroke-width="1.1"/>
<path d="M1303.3,769.3 C1302.4,770.1 1294.5,777.4 1292.5,779 C1290.6,780.5 1280.9,787.2 1279.9,788" fill="none" stroke="#000" stroke-width="1.1"/>
<path d="M1295.5,764.2 C1294.5,765 1285,772.7 1282.9,774.2 C1280.8,775.6 1271.9,780.8 1270.9,781.4" fill="none" stroke="#000" stroke-width="1.1"/>
<path d="M1282.9,769.3 C1283.9,770 1293.9,776.2 1294.9,776.8" fill="none" stroke="#000" stroke-width="1.1"/>
<path d="M1267.3,782 C1268.3,782.5 1278.8,787.5 1279.9,788" fill="none" stroke="#000" stroke-width="1.1"/>
<path d="M1270.9,781.4 C1270.3,782.3 1264.5,790.4 1263.7,792.2 C1262.8,794 1260.8,801.4 1260.7,803 C1260.5,804.6 1261.2,810 1261.9,811.4 C1262.5,812.9 1267.9,819.7 1268.5,820.4" fill="none" stroke="#000" stroke-width="1.1"/>
<path d="M1279.9,788 C1279.2,788.7 1273,795.4 1272.1,797 C1271.1,798.5 1268.7,805.1 1268.5,806.6 C1268.3,808.1 1269.2,814 1269.7,815 C1270.2,816.1 1273.6,818.9 1274.5,819.2 C1275.4,819.6 1278.1,819.7 1280.5,819.6 C1282.9,819.4 1301.1,817.5 1303.3,817.4 C1305.5,817.4 1306.1,815.8 1306.9,819.2 C1307.7,822.6 1312.5,855.1 1313,858.3" fill="none" stroke="#000" stroke-width="1.1"/>
<path d="M1299.1,806 C1299.8,806 1305.9,805.8 1306.9,806 C1308,806.2 1311.2,807.8 1311.8,808.4 C1312.3,809.1 1313.1,813.4 1313.2,813.8" fill="none" stroke="#000" stroke-width="1.1"/>
<path d="M1299.1,822.2 C1299.6,825 1304.6,852.2 1305.1,854.9" fill="none" stroke="#000" stroke-width="1.1"/>
<ellipse cx="1286.1" cy="804.2" rx="9.1" ry="12" transform="rotate(25 1286.1 804.2)" fill="none" stroke="#000" stroke-width="1.1"/>
<path d="M1277.8,810.2 C1278.2,808.9 1278.4,804.9 1279.9,802.4 C1281.3,800 1285.4,796.7 1286.5,795.6" fill="none" stroke="#000" stroke-width="1.1"/>
<path d="M1408.4,610.9 C1408.6,613.1 1409.3,619.9 1409.6,624.2 C1409.9,628.4 1410.3,632.6 1410.2,636.2 C1410.1,639.8 1409.7,643.2 1409,645.8 C1408.3,648.4 1406.5,650.8 1406,651.8" fill="none" stroke="#000" stroke-width="2.2"/>
<path d="M1406,651.8 C1400.7,653.8 1384.5,658.5 1374.2,663.8 C1363.8,669.1 1350.7,679.4 1344.1,683.7 C1337.5,688 1338.5,687 1334.5,689.7 C1330.5,692.4 1324.1,696.2 1320.1,699.9 C1316,703.6 1313.2,707.5 1310.4,711.9 C1307.6,716.3 1305,721.9 1303.2,726.3 C1301.4,730.8 1300.4,736.2 1299.6,738.4 C1298.8,740.6 1298.7,739.4 1298.5,739.6" fill="none" stroke="#000" stroke-width="2.2"/>
<path d="M1462.8,632 C1462.6,633.7 1462.7,638.5 1461.9,642.2 C1461.2,645.9 1459.9,650.6 1458.3,654.2 C1456.7,657.8 1454.7,660.9 1452.3,663.8 C1449.9,666.7 1448.3,668.2 1443.9,671.6 C1439.5,675 1431.5,680.7 1425.8,684.3 C1420.2,687.9 1417.6,689.8 1410.2,693.3 C1402.8,696.8 1391.4,701.2 1381.4,705.3 C1371.3,709.4 1355.3,715.8 1350.1,717.9" fill="none" stroke="#000" stroke-width="2.2"/>
<path d="M1410.2,636.2 C1411.8,637.4 1415.5,641.3 1419.8,643.4 C1424.1,645.5 1433.4,647.9 1436.1,648.8" fill="none" stroke="#000" stroke-width="1.1"/>
<path d="M1436.1,648.8 C1440.5,646.1 1458.3,635.1 1462.8,632.3" fill="none" stroke="#000" stroke-width="1.1"/>
<path d="M1436.7,648.2 C1436.6,650.2 1436.9,656.2 1436.1,660.2 C1435.3,664.2 1433.6,668.2 1431.9,672.2 C1430.2,676.3 1426.9,682.3 1425.8,684.3" fill="none" stroke="#000" stroke-width="1.1"/>
<path d="M1406,651.8 C1405.3,653 1403.9,656.9 1401.8,659 C1399.7,661.1 1403.4,660 1393.4,664.4 C1383.4,668.8 1351.5,681.3 1341.7,685.5 C1331.9,689.7 1335.7,689 1334.5,689.7" fill="none" stroke="#000" stroke-width="1.1"/>
<path d="M1393.4,664.4 C1394.4,666.7 1396.8,673.4 1399.4,678.3 C1402,683.1 1407.4,690.8 1409,693.3" fill="none" stroke="#000" stroke-width="1.1"/>
<path d="M1334.5,689.7 C1335.3,692.2 1336.7,700 1339.3,704.7 C1341.9,709.4 1348.3,715.7 1350.1,717.9" fill="none" stroke="#000" stroke-width="1.1"/>
<path d="M1350.1,717.9 C1348.5,718.7 1343.7,720.3 1340.5,722.7 C1337.3,725.1 1333.5,728.9 1330.9,732.4 C1328.3,735.8 1326.3,739.7 1324.9,743.2 C1323.4,746.7 1322.5,751.7 1322,753.4" fill="none" stroke="#000" stroke-width="1.1"/>
<path d="M1373.8,708.3 C1373.7,710.7 1373.1,720.3 1373,722.7" fill="none" stroke="#000" stroke-width="1.1"/>
<path d="M696.4,56.4 L696.4,110.5" fill="none" stroke="#000" stroke-width="1.1"/>
<path d="M689.3,31.8 Q689.3,29.8 696.2,29.3 Q703.1,29.8 703.1,31.8 L703.1,41.1 L700.7,41.1 L700.7,51.1 Q696.2,53.6 691.7,51.1 L691.7,41.1 L689.3,41.1Z" fill="#fff" stroke="#000" stroke-width="1.5"/>
<ellipse cx="696.2" cy="32.8" rx="6.6" ry="2.6" transform="rotate(0 696.2 32.8)" fill="none" stroke="#000" stroke-width="0.8"/>
<ellipse cx="696.2" cy="32.8" rx="3.5" ry="1.4" transform="rotate(0 696.2 32.8)" fill="none" stroke="#000" stroke-width="0.8"/>
<path d="M1572.3,560.7 L1572.3,617" fill="none" stroke="#000" stroke-width="1.1"/>
<path d="M1565.6,536.5 Q1565.6,534.5 1572.5,534 Q1579.4,534.5 1579.4,536.5 L1579.4,545.8 L1577,545.8 L1577,555.8 Q1572.5,558.3 1568,555.8 L1568,545.8 L1565.6,545.8Z" fill="#fff" stroke="#000" stroke-width="1.5"/>
<ellipse cx="1572.5" cy="537.5" rx="6.6" ry="2.6" transform="rotate(0 1572.5 537.5)" fill="none" stroke="#000" stroke-width="0.8"/>
<ellipse cx="1572.5" cy="537.5" rx="3.5" ry="1.4" transform="rotate(0 1572.5 537.5)" fill="none" stroke="#000" stroke-width="0.8"/>
<path d="M712.5,39.3 L766.5,41.6" fill="none" stroke="#000" stroke-width="1.1"/>
<circle cx="808" cy="42.8" r="41.2" fill="#fff" stroke="#000" stroke-width="2.2"/>
<text transform="translate(808 59.5) scale(1.000 1)" font-size="50" font-weight="bold" text-anchor="middle">2</text>
<path d="M1156.1,276.6 L1109.3,317.7" fill="none" stroke="#000" stroke-width="1.1"/>
<circle cx="1188.3" cy="247.7" r="41.5" fill="#fff" stroke="#000" stroke-width="2.2"/>
<text transform="translate(1188.3 264.4) scale(1.000 1)" font-size="50" font-weight="bold" text-anchor="middle">1</text>
<path d="M1629.3,489.3 L1582.3,529.3" fill="none" stroke="#000" stroke-width="1.1"/>
<circle cx="1660.7" cy="460" r="41.5" fill="#fff" stroke="#000" stroke-width="2.2"/>
<text transform="translate(1660.7 476.7) scale(1.000 1)" font-size="50" font-weight="bold" text-anchor="middle">2</text>
<!-- p20_A -->
<clipPath id="cpA"><rect x="4" y="950.3" width="932.4" height="1712.8"/></clipPath><g clip-path="url(#cpA)">
<path d="M314.3,1370 L314.3,1648.4" fill="none" stroke="#000" stroke-width="2.2"/>
<path d="M313.5,1215 L313.5,1122.4 L347.4,1102.9" fill="none" stroke="#000" stroke-width="2.2"/>
<path d="M313.5,1123 L347.9,1141.8" fill="none" stroke="#000" stroke-width="1.1"/>
<path d="M576.7,1173.3 L628,1201.3 L628,1648.4" fill="none" stroke="#000" stroke-width="2.2"/>
<path d="M628,1201.3 L537.6,1252.6 L486.6,1222.6" fill="none" stroke="#000" stroke-width="1.1"/>
<path d="M537.6,1252.6 L537.6,1640.4" fill="none" stroke="#000" stroke-width="1.1"/>
<path d="M356,960.7 L356,1200" fill="none" stroke="#000" stroke-width="2.2"/>
<path d="M367.3,954 L367.3,1200" fill="none" stroke="#000" stroke-width="1.1"/>
<path d="M424,954 L424,1113.5" fill="none" stroke="#000" stroke-width="1.1"/>
<path d="M437.3,954 L437.3,1113.5" fill="none" stroke="#000" stroke-width="1.1"/>
<path d="M501.7,954 L501.7,1222" fill="none" stroke="#000" stroke-width="2.2"/>
<path d="M512.8,954 L512.8,1227.5" fill="none" stroke="#000" stroke-width="1.1"/>
<path d="M569,954 L569,1194.9" fill="none" stroke="#000" stroke-width="1.1"/>
<path d="M576.7,960.7 L576.7,1182" fill="none" stroke="#000" stroke-width="2.2"/>
<path d="M576.7,1180 C576.5,1181.4 576.7,1186 575.4,1188.5 C574.1,1191 570.1,1193.8 569,1194.9" fill="none" stroke="#000" stroke-width="1.6"/>
<path d="M569,1194.9 L512.9,1227.6 L501.6,1222" fill="none" stroke="#000" stroke-width="1.1"/>
<path d="M419.4,1115.5 C420,1114.9 421.6,1112.8 423,1112 C424.4,1111.2 425.8,1110.3 428,1110.5 C430.2,1110.7 435.1,1112.6 436.5,1113 L500.7,1148.8" fill="none" stroke="#000" stroke-width="1.1"/>
<path d="M412.6,1178.3 L444.8,1196.9" fill="none" stroke="#000" stroke-width="1.1"/>
<path d="M258.5,1257 L259.2,1251 L261.5,1247 L266,1244 L312.7,1216.9 L320.3,1212.5 L331.3,1202.3 L347.4,1194.3 L440,1150 L488,1263.8 L500.8,1279.5 L513.6,1302.2 L522.1,1322.1 L524.9,1333.5 L524.9,1367.6 L516.4,1374.7 L507.9,1386 L503.6,1397.4 L486.9,1457.1 L462.3,1471.6 L456.8,1473.5 L452,1471.5 L261.5,1361 L258.5,1356Z" fill="#fff"/>
<path d="M452,1471.5 L261.5,1361 C261.1,1360.7 259.7,1359.8 259.2,1359 C258.7,1358.2 258.6,1356.5 258.5,1356 L258.5,1257 C258.6,1256 258.7,1252.7 259.2,1251 C259.7,1249.3 260.4,1248.2 261.5,1247 C262.6,1245.8 265.2,1244.5 266,1244 L312.7,1216.9" fill="none" stroke="#000" stroke-width="2.2"/>
<path d="M488,1263.8 C490.1,1266.4 496.5,1273.1 500.8,1279.5 C505.1,1285.9 510.1,1295.1 513.6,1302.2 C517.1,1309.3 520.2,1316.9 522.1,1322.1 C524,1327.3 524.4,1331.6 524.9,1333.5 L524.9,1367.6 C523.5,1368.8 519.2,1371.6 516.4,1374.7 C513.6,1377.8 510,1382.2 507.9,1386 C505.8,1389.8 504.3,1395.5 503.6,1397.4 L487.5,1456 C487.2,1456.4 486.8,1457.8 486,1458.5 C485.2,1459.2 483.5,1459.8 483,1460 L462.3,1471.6 C461.4,1472 458.7,1474 457,1474 C455.3,1474 452.8,1471.9 452,1471.5" fill="none" stroke="#000" stroke-width="2.2"/>
<path d="M320.3,1212.5 C321.1,1211.5 323,1208.7 325.4,1206.7 C327.8,1204.7 331,1202.6 334.7,1200.6 C338.4,1198.6 345.6,1195.8 347.7,1194.9" fill="none" stroke="#000" stroke-width="2.2"/>
<path d="M322.8,1213.8 C324,1213.1 327.1,1210.8 329.6,1209.6 C332.2,1208.4 335.1,1207.5 338.1,1206.7 C341.1,1205.9 346.1,1205.3 347.7,1205" fill="none" stroke="#000" stroke-width="1.1"/>
<path d="M312.7,1216.9 L322.8,1211.3" fill="none" stroke="#000" stroke-width="1.1"/>
<path d="M311.8,1218.9 L333,1231.3" fill="none" stroke="#000" stroke-width="1.1"/>
<path d="M268.6,1245.2 L452.4,1351.4" fill="none" stroke="#000" stroke-width="1.1"/>
<path d="M260.2,1251.1 L448.2,1359.5" fill="none" stroke="#000" stroke-width="1.1"/>
<path d="M448.2,1299.3 L495.8,1326.3" fill="none" stroke="#000" stroke-width="1.1"/>
<path d="M465.2,1297.9 L493.7,1315" fill="none" stroke="#000" stroke-width="1.1"/>
<path d="M453.9,1349.8 L496.5,1325.6" fill="none" stroke="#000" stroke-width="1.1"/>
<path d="M457.4,1354 L498.6,1329.9 C499.4,1329.1 502.5,1326.8 503.3,1324.9 C504.1,1323 504.2,1321.4 503.3,1318.5 C502.4,1315.7 500.5,1312.8 497.9,1307.9 C495.4,1302.9 489.6,1291.9 488,1288.7" fill="none" stroke="#000" stroke-width="1.1"/>
<path d="M496.5,1325.6 C496.9,1324.8 498.8,1322.3 499.1,1320.7 C499.3,1319 498.8,1317.7 497.9,1315.7 C497,1313.7 496,1312.5 493.7,1308.6 C491.3,1304.7 485.4,1295 483.7,1292.2" fill="none" stroke="#000" stroke-width="1.1"/>
<path d="M493.7,1315 L501.5,1311.4" fill="none" stroke="#000" stroke-width="1.1"/>
<path d="M461,1371.1 L523.8,1336.3" fill="none" stroke="#000" stroke-width="1.1"/>
<path d="M448.9,1356.9 C449.1,1356.2 449.1,1353.8 449.9,1352.6 C450.7,1351.4 453.2,1350.3 453.9,1349.8" fill="none" stroke="#000" stroke-width="1.1"/>
<path d="M448.9,1356.9 C449.2,1358.2 450.1,1362.3 450.8,1364.7 C451.4,1367.1 451.6,1369.7 452.7,1371.1 C453.9,1372.5 456.1,1373.2 457.4,1373.2 C458.8,1373.2 460.4,1371.4 461,1371.1" fill="none" stroke="#000" stroke-width="1.1"/>
<path d="M453.9,1349.8 C454.4,1350.1 455.8,1350.1 456.7,1351.9 C457.7,1353.7 458.8,1357.2 459.6,1360.4 C460.3,1363.6 461,1369.3 461.3,1371.1" fill="none" stroke="#000" stroke-width="1.1"/>
<path d="M452.5,1372.1 L453.6,1470.8" fill="none" stroke="#000" stroke-width="1.1"/>
<path d="M461.6,1371.4 L462.3,1470.8" fill="none" stroke="#000" stroke-width="1.1"/>
<path d="M437.5,1253.9 L437.1,1243.9 C437.3,1243.2 437.4,1240.9 438.3,1239.7 C439.2,1238.5 441.8,1237.3 442.5,1236.8 L453.9,1231.9 C454.6,1231.9 457,1231.1 458.1,1231.9 C459.3,1232.6 460.5,1235.4 461,1236.1" fill="none" stroke="#000" stroke-width="2.2"/>
<path d="M440.4,1254.6 L440.4,1245.4 L443.2,1241.1 L455.3,1234.7" fill="none" stroke="#000" stroke-width="1.1"/>
<path d="M426.9,1248.2 L437.5,1253.9" fill="none" stroke="#000" stroke-width="1.1"/>
<path d="M443.2,1241.1 L466.7,1259.6" fill="none" stroke="#000" stroke-width="1.1"/>
<path d="M448.2,1244.6 C450.1,1245.7 455.8,1247.8 459.6,1251 C463.4,1254.2 469,1261.7 470.9,1263.8" fill="none" stroke="#000" stroke-width="1.1"/>
<path d="M346.6,1210.4 C345.4,1210.9 336.1,1214 334.7,1215.5 C333.3,1217 332.8,1223.7 332.7,1225.7 C332.5,1227.6 333.6,1233.3 333,1235 C332.4,1236.7 327.8,1240.5 327.1,1242.6 C326.4,1244.7 325.8,1253.6 326.2,1256.2 C326.7,1258.7 329.4,1266.2 331.3,1268 C333.2,1269.9 341.8,1273.4 344.9,1274.8 C347.9,1276.2 360.1,1281.7 361.8,1282.4" fill="none" stroke="#000" stroke-width="0.9" stroke-dasharray="3.2 2.2"/>
<path d="M333,1227.4 L347.9,1234.5" fill="none" stroke="#000" stroke-width="0.9" stroke-dasharray="3.2 2.2"/>
<path d="M385.5,1297.7 L402.5,1307 L446.5,1297.7" fill="none" stroke="#000" stroke-width="0.9" stroke-dasharray="3.2 2.2"/>
<path d="M446.5,1297.7 C448.4,1297.8 461.6,1298.9 465.1,1298.9 C468.7,1298.8 479.7,1297.8 482.1,1296.8 C484.4,1295.8 488.3,1290.1 488.9,1288.7 C489.4,1287.3 487.3,1283.1 487.2,1282.4" fill="none" stroke="#000" stroke-width="0.9" stroke-dasharray="3.2 2.2"/>
<path d="M487.2,1282.4 L427,1251.1" fill="none" stroke="#000" stroke-width="0.9" stroke-dasharray="3.2 2.2"/>
<path d="M427,1264.6 L470.2,1287.5" fill="none" stroke="#000" stroke-width="0.9" stroke-dasharray="3.2 2.2"/>
<path d="M427,1279.9 L449.9,1293.4" fill="none" stroke="#000" stroke-width="0.9" stroke-dasharray="3.2 2.2"/>
<path d="M470.2,1287.5 C471.6,1287.9 476.1,1290.1 478.7,1290.1 C481.2,1290.1 483.9,1288.6 485.5,1287.5 C487,1286.4 487.6,1284 488,1283.3" fill="none" stroke="#000" stroke-width="0.9" stroke-dasharray="3.2 2.2"/>
<path d="M465.1,1298.5 C466.8,1297.8 472.2,1295.3 475.3,1294.3 C478.4,1293.3 482.4,1292.9 483.8,1292.6" fill="none" stroke="#000" stroke-width="0.9" stroke-dasharray="3.2 2.2"/>
<path d="M417.3,1236.6 L421,1238.4 L424.3,1242.3 L426.1,1248 L426.3,1282.5 L422.6,1288.2 L416.9,1291.5 L411.1,1293.5 L403.8,1293 L392.3,1291.1 L392.3,1245.6 L417.3,1237.4Z" fill="#fff"/>
<path d="M417.3,1236.6 C417.9,1236.9 419.8,1237.4 421,1238.4 C422.1,1239.3 423.4,1240.7 424.3,1242.3 C425.1,1243.9 425.8,1247.1 426.1,1248 L426.3,1282.5 C425.7,1283.4 424.2,1286.7 422.6,1288.2 C421.1,1289.7 418.8,1290.6 416.9,1291.5 C415,1292.4 413.3,1293.3 411.1,1293.5 C409,1293.8 406.9,1293.4 403.8,1293 C400.6,1292.5 394.2,1291.4 392.3,1291.1" fill="none" stroke="#000" stroke-width="2.2"/>
<path d="M421.8,1255.4 L421.8,1287.4" fill="none" stroke="#000" stroke-width="1.1"/>
<path d="M417.3,1249.7 C417.8,1249.9 419.4,1250.4 420.2,1251.3 C420.9,1252.3 421.5,1254.7 421.8,1255.4" fill="none" stroke="#000" stroke-width="1.1"/>
<path d="M420.2,1239 C420.6,1240 422.3,1242.7 422.6,1244.8 C422.9,1246.8 422.4,1249.8 422,1251.3 C421.6,1252.8 420.5,1253.4 420.2,1253.8" fill="none" stroke="#000" stroke-width="1.1"/>
<path d="M388.9,1146.9 L395.3,1144.4 L415.2,1188.4 L416.9,1198.6 L416.9,1288.4 L410.1,1293.8 L410.1,1202 L409.2,1190.1Z" fill="#fff"/>
<path d="M395.3,1144.4 L415.2,1188.4 C415.4,1189.1 416.2,1191 416.5,1192.7 C416.8,1194.3 416.8,1197.6 416.9,1198.6 L416.9,1290.9" fill="none" stroke="#000" stroke-width="2.2"/>
<path d="M388.9,1146.9 L409.2,1190.1 L410.1,1202 L410.1,1293.8" fill="none" stroke="#000" stroke-width="1.1"/>
<path d="M410.1,1201.1 L416.9,1197.7" fill="none" stroke="#000" stroke-width="1.1"/>
<path d="M395.2,1257.9 C396.3,1258.1 399.7,1259.2 402.1,1259.1 C404.6,1259 408.6,1257.4 409.9,1257" fill="none" stroke="#000" stroke-width="1.1"/>
<path d="M395.2,1262.8 C396.5,1263 400.2,1264 403,1263.8 C405.7,1263.5 410.1,1261.6 411.6,1261.1" fill="none" stroke="#000" stroke-width="1.1"/>
<path d="M395.6,1249.3 L409.9,1257" fill="none" stroke="#000" stroke-width="1.1"/>
<path d="M412.4,1262 L412.4,1292.7" fill="none" stroke="#000" stroke-width="1.1"/>
<path d="M412,1272.6 C412.5,1272.5 414.6,1271.3 415.2,1271.8 C415.9,1272.3 416.3,1274.7 416.1,1275.9 C415.8,1277.1 414.3,1278.6 413.6,1279.2 C412.9,1279.8 412.2,1279.5 412,1279.6" fill="none" stroke="#000" stroke-width="1.1"/>
<path d="M389,1213.6 L395.2,1210.7" fill="none" stroke="#000" stroke-width="1.1"/>
<path d="M389,1285.7 L394.8,1282.9" fill="none" stroke="#000" stroke-width="1.1"/>
<path d="M410.7,1199.7 L416.9,1196.8" fill="none" stroke="#000" stroke-width="1.1"/>
<path d="M394,1215.5 C394.8,1216.4 397.9,1218.6 399.1,1220.6 C400.2,1222.6 401,1225.5 400.8,1227.4 C400.5,1229.2 398.3,1231 397.4,1231.6 C396.4,1232.2 395.5,1230.9 395.2,1230.8" fill="none" stroke="#000" stroke-width="1.1"/>
<path d="M347.9,1269.7 L347.9,1113.9 L349.6,1102.9 L355.4,1094.9 L363.2,1090.5 L371.6,1092.2 L376.7,1098.3 L378.2,1107.1 L375.7,1112.5 L377.4,1124.4 L394.3,1198.6 L395,1213.8 L395.2,1285.8 L390.6,1292.6 L383.8,1296.8 L375.4,1296.5 L366.9,1289.2 L361,1279.9 L351.6,1274.8Z" fill="#fff"/>
<path d="M347.9,1269.7 L347.9,1113.9 C348.2,1112 348.4,1106 349.6,1102.9 C350.8,1099.7 353.1,1097 355.4,1094.9 C357.6,1092.8 360.4,1091 363.2,1090.5 C365.9,1090.1 369.4,1090.9 371.6,1092.2 C373.9,1093.5 375.6,1095.8 376.7,1098.3 C377.8,1100.8 378,1105.6 378.2,1107.1 L375.7,1112.5 L377.4,1124.4" fill="none" stroke="#000" stroke-width="2.2"/>
<path d="M347.9,1269.7 C348.5,1270.6 349.5,1273.1 351.6,1274.8 C353.8,1276.5 358.4,1277.5 361,1279.9 C363.5,1282.3 364.5,1286.4 366.9,1289.2 C369.3,1292 372.5,1295.2 375.4,1296.5 C378.2,1297.8 381.3,1297.5 383.8,1296.8 C386.4,1296.2 388.9,1294.3 390.6,1292.6 C392.4,1290.9 393.7,1287.7 394.3,1286.7" fill="none" stroke="#000" stroke-width="2.2"/>
<path d="M357.1,1097.8 L357.1,1113.5 L352,1121.5 L388.9,1206.2 L389.2,1290.1" fill="none" stroke="#000" stroke-width="1.1"/>
<path d="M352.1,1096.4 C351.8,1097.9 350.4,1102.5 349.9,1105.4 C349.5,1108.3 349.3,1111.2 349.6,1113.9 C349.9,1116.6 351.6,1120.2 352,1121.5" fill="none" stroke="#000" stroke-width="1.1"/>
<path d="M368.9,1094.4 L369.3,1138.4 L394.3,1198.6 C394.4,1199.7 394.9,1202.8 395,1205.4 C395.1,1207.9 395,1212.4 395,1213.8 L395.2,1285.8" fill="none" stroke="#000" stroke-width="1.1"/>
<path d="M388.9,1206.2 L394.3,1198.6" fill="none" stroke="#000" stroke-width="1.1"/>
<path d="M352.1,1096.4 L357.1,1097.8" fill="none" stroke="#000" stroke-width="1.1"/>
<path d="M375.7,1112.5 L372.3,1113.9" fill="none" stroke="#000" stroke-width="1.1"/>
<ellipse cx="372.8" cy="1236.7" rx="9.8" ry="13.2" transform="rotate(-14 372.8 1236.7)" fill="none" stroke="#000" stroke-width="1.1"/>
<path d="M378.7,1113.9 L433.8,1119 L419.4,1127.8 C422.8,1131.1 433.2,1139.9 439.7,1147.8 C446.2,1155.6 452.4,1164.7 458.4,1174.9 C464.3,1185 470.6,1198.6 475.3,1208.7 C480,1218.9 483.6,1227.7 486.3,1235.8 C489.1,1244 490.8,1254.2 491.7,1257.9 L471.1,1269.4 C470.1,1264.9 468.1,1252.2 465.1,1242.6 C462.2,1233.1 457.8,1222 453.3,1212.1 C448.8,1202.2 443.7,1192.4 438,1183.3 C432.4,1174.3 425.6,1165.4 419.4,1157.9 C413.2,1150.4 403.9,1141.7 400.8,1138.4 L382.1,1147.8Z" fill="#000"/>
</g>
<!-- p30_B -->
<clipPath id="cpB"><rect x="1013.3" y="1062" width="600" height="560"/></clipPath><g clip-path="url(#cpB)">
<path d="M689,850.7 L1425.7,1276.1" fill="none" stroke="#000" stroke-width="1.1"/>
<path d="M701.5,843.6 L1438.7,1268.4" fill="none" stroke="#000" stroke-width="1.1"/>
<path d="M689,904.2 L1425.7,1329.4" fill="none" stroke="#000" stroke-width="2.2"/>
<path d="M969.4,980 L969.6,985.4 L973.3,987.3 L977.5,984.8" fill="none" stroke="#000" stroke-width="2.2"/>
<path d="M969.4,980.2 L963.5,983.9 L961.9,989.7 L970.3,994.4 L971.7,988.4" fill="none" stroke="#000" stroke-width="1.1"/>
<path d="M961.9,989.7 L969.6,985.4" fill="none" stroke="#000" stroke-width="1.1"/>
<path d="M995.7,995.2 L995.9,1000.6 L999.6,1002.5 L1003.8,999.9" fill="none" stroke="#000" stroke-width="2.2"/>
<path d="M995.7,995.4 L989.8,999.1 L988.2,1004.8 L996.6,1009.6 L998,1003.6" fill="none" stroke="#000" stroke-width="1.1"/>
<path d="M988.2,1004.8 L995.9,1000.6" fill="none" stroke="#000" stroke-width="1.1"/>
<path d="M1022,1010.3 L1022.2,1015.8 L1025.9,1017.7 L1030.1,1015.1" fill="none" stroke="#000" stroke-width="2.2"/>
<path d="M1022,1010.6 L1016.1,1014.3 L1014.5,1020 L1022.9,1024.8 L1024.3,1018.8" fill="none" stroke="#000" stroke-width="1.1"/>
<path d="M1014.5,1020 L1022.2,1015.8" fill="none" stroke="#000" stroke-width="1.1"/>
<path d="M1048.3,1025.5 L1048.5,1031 L1052.2,1032.9 L1056.4,1030.3" fill="none" stroke="#000" stroke-width="2.2"/>
<path d="M1048.3,1025.8 L1042.4,1029.4 L1040.8,1035.2 L1049.2,1039.9 L1050.5,1034" fill="none" stroke="#000" stroke-width="1.1"/>
<path d="M1040.8,1035.2 L1048.5,1031" fill="none" stroke="#000" stroke-width="1.1"/>
<path d="M1074.6,1040.7 L1074.8,1046.1 L1078.5,1048 L1082.7,1045.5" fill="none" stroke="#000" stroke-width="2.2"/>
<path d="M1074.6,1041 L1068.7,1044.6 L1067,1050.4 L1075.5,1055.1 L1076.8,1049.1" fill="none" stroke="#000" stroke-width="1.1"/>
<path d="M1067,1050.4 L1074.8,1046.1" fill="none" stroke="#000" stroke-width="1.1"/>
<path d="M1100.9,1055.9 L1101.1,1061.3 L1104.8,1063.2 L1109,1060.7" fill="none" stroke="#000" stroke-width="2.2"/>
<path d="M1100.9,1056.1 L1095,1059.8 L1093.3,1065.6 L1101.8,1070.3 L1103.1,1064.3" fill="none" stroke="#000" stroke-width="1.1"/>
<path d="M1093.3,1065.6 L1101.1,1061.3" fill="none" stroke="#000" stroke-width="1.1"/>
<path d="M1127.1,1071.1 L1127.4,1076.5 L1131.1,1078.4 L1135.3,1075.9" fill="none" stroke="#000" stroke-width="2.2"/>
<path d="M1127.1,1071.3 L1121.3,1075 L1119.6,1080.7 L1128.1,1085.5 L1129.4,1079.5" fill="none" stroke="#000" stroke-width="1.1"/>
<path d="M1119.6,1080.7 L1127.4,1076.5" fill="none" stroke="#000" stroke-width="1.1"/>
<path d="M1153.4,1086.2 L1153.7,1091.7 L1157.4,1093.6 L1161.6,1091" fill="none" stroke="#000" stroke-width="2.2"/>
<path d="M1153.4,1086.5 L1147.6,1090.2 L1145.9,1095.9 L1154.4,1100.7 L1155.7,1094.7" fill="none" stroke="#000" stroke-width="1.1"/>
<path d="M1145.9,1095.9 L1153.7,1091.7" fill="none" stroke="#000" stroke-width="1.1"/>
<path d="M1179.7,1101.4 L1180,1106.9 L1183.7,1108.8 L1187.9,1106.2" fill="none" stroke="#000" stroke-width="2.2"/>
<path d="M1179.7,1101.7 L1173.9,1105.3 L1172.2,1111.1 L1180.7,1115.8 L1182,1109.9" fill="none" stroke="#000" stroke-width="1.1"/>
<path d="M1172.2,1111.1 L1180,1106.9" fill="none" stroke="#000" stroke-width="1.1"/>
<path d="M1206,1116.6 L1206.2,1122 L1209.9,1124 L1214.2,1121.4" fill="none" stroke="#000" stroke-width="2.2"/>
<path d="M1206,1116.9 L1200.2,1120.5 L1198.5,1126.3 L1207,1131 L1208.3,1125" fill="none" stroke="#000" stroke-width="1.1"/>
<path d="M1198.5,1126.3 L1206.2,1122" fill="none" stroke="#000" stroke-width="1.1"/>
<path d="M1232.3,1131.8 L1232.5,1137.2 L1236.2,1139.1 L1240.5,1136.6" fill="none" stroke="#000" stroke-width="2.2"/>
<path d="M1232.3,1132 L1226.5,1135.7 L1224.8,1141.5 L1233.2,1146.2 L1234.6,1140.2" fill="none" stroke="#000" stroke-width="1.1"/>
<path d="M1224.8,1141.5 L1232.5,1137.2" fill="none" stroke="#000" stroke-width="1.1"/>
<path d="M1258.6,1147 L1258.8,1152.4 L1262.5,1154.3 L1266.8,1151.8" fill="none" stroke="#000" stroke-width="2.2"/>
<path d="M1258.6,1147.2 L1252.7,1150.9 L1251.1,1156.7 L1259.5,1161.4 L1260.9,1155.4" fill="none" stroke="#000" stroke-width="1.1"/>
<path d="M1251.1,1156.7 L1258.8,1152.4" fill="none" stroke="#000" stroke-width="1.1"/>
<path d="M1284.9,1162.1 L1285.1,1167.6 L1288.8,1169.5 L1293.1,1166.9" fill="none" stroke="#000" stroke-width="2.2"/>
<path d="M1284.9,1162.4 L1279,1166.1 L1277.4,1171.8 L1285.8,1176.6 L1287.2,1170.6" fill="none" stroke="#000" stroke-width="1.1"/>
<path d="M1277.4,1171.8 L1285.1,1167.6" fill="none" stroke="#000" stroke-width="1.1"/>
<path d="M1311.2,1177.3 L1311.4,1182.8 L1315.1,1184.7 L1319.4,1182.1" fill="none" stroke="#000" stroke-width="2.2"/>
<path d="M1311.2,1177.6 L1305.3,1181.2 L1303.7,1187 L1312.1,1191.8 L1313.5,1185.8" fill="none" stroke="#000" stroke-width="1.1"/>
<path d="M1303.7,1187 L1311.4,1182.8" fill="none" stroke="#000" stroke-width="1.1"/>
<path d="M1337.5,1192.5 L1337.7,1198 L1341.4,1199.9 L1345.7,1197.3" fill="none" stroke="#000" stroke-width="2.2"/>
<path d="M1337.5,1192.8 L1331.6,1196.4 L1330,1202.2 L1338.4,1206.9 L1339.8,1200.9" fill="none" stroke="#000" stroke-width="1.1"/>
<path d="M1330,1202.2 L1337.7,1198" fill="none" stroke="#000" stroke-width="1.1"/>
<path d="M1363.8,1207.7 L1364,1213.1 L1367.7,1215 L1372,1212.5" fill="none" stroke="#000" stroke-width="2.2"/>
<path d="M1363.8,1207.9 L1357.9,1211.6 L1356.3,1217.4 L1364.7,1222.1 L1366.1,1216.1" fill="none" stroke="#000" stroke-width="1.1"/>
<path d="M1356.3,1217.4 L1364,1213.1" fill="none" stroke="#000" stroke-width="1.1"/>
<path d="M1390.1,1222.9 L1390.3,1228.3 L1394,1230.2 L1398.3,1227.7" fill="none" stroke="#000" stroke-width="2.2"/>
<path d="M1390.1,1223.1 L1384.2,1226.8 L1382.6,1232.6 L1391,1237.3 L1392.4,1231.3" fill="none" stroke="#000" stroke-width="1.1"/>
<path d="M1382.6,1232.6 L1390.3,1228.3" fill="none" stroke="#000" stroke-width="1.1"/>
<path d="M1416.4,1238.1 L1416.6,1243.5 L1420.3,1245.4 L1424.6,1242.8" fill="none" stroke="#000" stroke-width="2.2"/>
<path d="M1416.4,1238.3 L1410.5,1242 L1408.9,1247.7 L1417.3,1252.5 L1418.7,1246.5" fill="none" stroke="#000" stroke-width="1.1"/>
<path d="M1408.9,1247.7 L1416.6,1243.5" fill="none" stroke="#000" stroke-width="1.1"/>
<path d="M951.3,969.6 L969.4,980" fill="none" stroke="#000" stroke-width="2.2"/>
<path d="M945.4,973.2 L963.5,983.9" fill="none" stroke="#000" stroke-width="1.1"/>
<path d="M977.5,984.8 L995.7,995.2" fill="none" stroke="#000" stroke-width="2.2"/>
<path d="M971.7,988.4 L989.8,999.1" fill="none" stroke="#000" stroke-width="1.1"/>
<path d="M1003.8,999.9 L1022,1010.3" fill="none" stroke="#000" stroke-width="2.2"/>
<path d="M998,1003.6 L1016.1,1014.3" fill="none" stroke="#000" stroke-width="1.1"/>
<path d="M1030.1,1015.1 L1048.3,1025.5" fill="none" stroke="#000" stroke-width="2.2"/>
<path d="M1024.3,1018.8 L1042.4,1029.4" fill="none" stroke="#000" stroke-width="1.1"/>
<path d="M1056.4,1030.3 L1074.6,1040.7" fill="none" stroke="#000" stroke-width="2.2"/>
<path d="M1050.5,1034 L1068.7,1044.6" fill="none" stroke="#000" stroke-width="1.1"/>
<path d="M1082.7,1045.5 L1100.9,1055.9" fill="none" stroke="#000" stroke-width="2.2"/>
<path d="M1076.8,1049.1 L1095,1059.8" fill="none" stroke="#000" stroke-width="1.1"/>
<path d="M1109,1060.7 L1127.1,1071.1" fill="none" stroke="#000" stroke-width="2.2"/>
<path d="M1103.1,1064.3 L1121.3,1075" fill="none" stroke="#000" stroke-width="1.1"/>
<path d="M1135.3,1075.9 L1153.4,1086.2" fill="none" stroke="#000" stroke-width="2.2"/>
<path d="M1129.4,1079.5 L1147.6,1090.2" fill="none" stroke="#000" stroke-width="1.1"/>
<path d="M1161.6,1091 L1179.7,1101.4" fill="none" stroke="#000" stroke-width="2.2"/>
<path d="M1155.7,1094.7 L1173.9,1105.3" fill="none" stroke="#000" stroke-width="1.1"/>
<path d="M1187.9,1106.2 L1206,1116.6" fill="none" stroke="#000" stroke-width="2.2"/>
<path d="M1182,1109.9 L1200.2,1120.5" fill="none" stroke="#000" stroke-width="1.1"/>
<path d="M1214.2,1121.4 L1232.3,1131.8" fill="none" stroke="#000" stroke-width="2.2"/>
<path d="M1208.3,1125 L1226.5,1135.7" fill="none" stroke="#000" stroke-width="1.1"/>
<path d="M1240.5,1136.6 L1258.6,1147" fill="none" stroke="#000" stroke-width="2.2"/>
<path d="M1234.6,1140.2 L1252.7,1150.9" fill="none" stroke="#000" stroke-width="1.1"/>
<path d="M1266.8,1151.8 L1284.9,1162.1" fill="none" stroke="#000" stroke-width="2.2"/>
<path d="M1260.9,1155.4 L1279,1166.1" fill="none" stroke="#000" stroke-width="1.1"/>
<path d="M1293.1,1166.9 L1311.2,1177.3" fill="none" stroke="#000" stroke-width="2.2"/>
<path d="M1287.2,1170.6 L1305.3,1181.2" fill="none" stroke="#000" stroke-width="1.1"/>
<path d="M1319.4,1182.1 L1337.5,1192.5" fill="none" stroke="#000" stroke-width="2.2"/>
<path d="M1313.5,1185.8 L1331.6,1196.4" fill="none" stroke="#000" stroke-width="1.1"/>
<path d="M1345.7,1197.3 L1363.8,1207.7" fill="none" stroke="#000" stroke-width="2.2"/>
<path d="M1339.8,1200.9 L1357.9,1211.6" fill="none" stroke="#000" stroke-width="1.1"/>
<path d="M1372,1212.5 L1390.1,1222.9" fill="none" stroke="#000" stroke-width="2.2"/>
<path d="M1366.1,1216.1 L1384.2,1226.8" fill="none" stroke="#000" stroke-width="1.1"/>
<path d="M1398.3,1227.7 L1416.4,1238.1" fill="none" stroke="#000" stroke-width="2.2"/>
<path d="M1392.4,1231.3 L1410.5,1242" fill="none" stroke="#000" stroke-width="1.1"/>
<path d="M1424.6,1242.8 L1447.1,1255.8" fill="none" stroke="#000" stroke-width="2.2"/>
<path d="M1418.7,1246.5 L1440.7,1260.3" fill="none" stroke="#000" stroke-width="1.1"/>
<path d="M1425.7,1276.1 L1438.7,1268.4 L1440.7,1260.3" fill="none" stroke="#000" stroke-width="1.1"/>
<path d="M1440.7,1260.3 C1441,1259.9 1441.7,1258.9 1442.4,1258.4 C1443.1,1257.8 1444.1,1257.5 1444.9,1257 C1445.7,1256.6 1446.7,1256 1447.1,1255.8" fill="none" stroke="#000" stroke-width="1.1"/>
<path d="M1425.7,1276.1 L1425.7,1329.4" fill="none" stroke="#000" stroke-width="1.1"/>
<path d="M1425.7,1329.4 L1447.1,1317 L1447.1,1255.8" fill="none" stroke="#000" stroke-width="2.2"/>
<ellipse cx="1428.9" cy="1269" rx="2.5" ry="1.5" transform="rotate(0 1428.9 1269)" fill="none" stroke="#000" stroke-width="0.9"/>
<path d="M1350.17,1243.578 Q1350.17,1239.428 1353.49,1241.3453 L1414.993,1276.8632825 Q1418.3129999999999,1278.7805825 1418.3129999999999,1282.9305825 L1418.3129999999999,1315.4665825 Q1418.3129999999999,1319.6165825 1414.993,1317.6992825 L1353.49,1282.1813 Q1350.17,1280.2640000000001 1350.17,1276.114Z" fill="none" stroke="#000" stroke-width="1.1"/>
<path d="M710.4,1017 L1447.1,1442.3" fill="none" stroke="#000" stroke-width="2.2"/>
<path d="M689.2,1029.8 L1425.8,1454.7" fill="none" stroke="#000" stroke-width="1.1"/>
<path d="M689.2,1082.5 L1425.8,1507.8" fill="none" stroke="#000" stroke-width="2.2"/>
<path d="M1425.8,1454.7 L1425.8,1507.8" fill="none" stroke="#000" stroke-width="1.1"/>
<path d="M1425.8,1454.7 L1447.1,1442.3" fill="none" stroke="#000" stroke-width="1.1"/>
<path d="M1447.1,1442.3 L1447.1,1503.6 L1440.9,1507 L1434.5,1502.9 L1425.8,1507.8" fill="none" stroke="#000" stroke-width="2.2"/>
<path d="M1434.5,1502.9 L1438.2,1500.6 L1440.9,1507" fill="none" stroke="#000" stroke-width="1.1"/>
<path d="M1267,1237.3 L1279.4,1227.4 L1290.4,1221.4 L1302.4,1217.4 L1309.4,1217.2 L1317.4,1219.9 L1327.3,1225.4 L1336.3,1231.3 L1338,1233.3 L1338,1280.2 L1337.3,1288.7 L1334.3,1298.7 L1329.3,1306.7 L1322.4,1313.2 L1307.4,1323.6 L1294.4,1331.1 L1270.5,1341.1 L1264.5,1343.6 L1264.1,1344.9 L1264.1,1414.2 L1263.1,1414.2 L1259.6,1417.5 L1256.6,1417.7 L1220.7,1468.6 L1216.7,1470.6 L1213.7,1470.1 L1206.7,1467.1 L1201.7,1462.1 L1197.7,1438.7 L1196.7,1438.2 L1183.7,1439.7 L1177.8,1438.2 L1169.8,1434.2 L1165.3,1428.2 L1164.5,1420.2 L1167.3,1411.2 L1173.8,1402.7 L1181.7,1396.3 L1181.7,1396.3 L1181.7,1396.3 L1178.3,1392.3 L1180.8,1371.3 L1182.2,1369 L1185.2,1368.8 L1201.7,1369.5 L1202.6,1368.5 L1205.6,1358.6 L1211.6,1346.6 L1219.6,1336.6 L1231.5,1328.1 L1239.5,1323.1 L1264.5,1306.7 L1290.9,1296.7 L1290.9,1296.7 L1293.4,1291.7 L1294.4,1283.7 L1293.9,1273.8 L1292.9,1262.8 L1292.9,1262.8 L1289.9,1267.8 L1287.9,1273.8 L1288.4,1279.7 L1288.4,1279.7 L1286.9,1284.7 L1283.9,1292 L1283.9,1292 L1277.4,1289.7 L1270.5,1286.2 L1262.5,1280.2 L1258.5,1273.8 L1257,1265.8 L1258,1255.8 L1261.5,1245.8 L1267,1237.3Z" fill="#fff"/>
<path d="M1267,1237.3 C1269,1235.7 1275.5,1230 1279.4,1227.4 C1283.4,1224.7 1286.6,1223 1290.4,1221.4 C1294.2,1219.7 1299.2,1218.1 1302.4,1217.4 C1305.6,1216.7 1306.9,1216.8 1309.4,1217.2 C1311.9,1217.6 1314.4,1218.5 1317.4,1219.9 C1320.4,1221.2 1324.2,1223.4 1327.3,1225.4 C1330.5,1227.3 1334.5,1230 1336.3,1231.3 C1338.1,1232.7 1337.7,1233 1338,1233.3" fill="none" stroke="#000" stroke-width="1.1"/>
<path d="M1269,1284.7 C1268.6,1282.9 1267,1277.2 1266.5,1273.8 C1266,1270.3 1265.6,1267.4 1266,1263.8 C1266.3,1260.1 1267.1,1255.5 1268.5,1251.8 C1269.9,1248.1 1272.1,1244.8 1274.5,1241.8 C1276.8,1238.8 1279.1,1236.4 1282.4,1233.8 C1285.8,1231.3 1290.8,1228.2 1294.4,1226.4 C1298.1,1224.5 1301.1,1223.6 1304.4,1222.9 C1307.7,1222.1 1311.9,1221.9 1314.4,1221.9 C1316.9,1221.8 1318.5,1222.4 1319.4,1222.6" fill="none" stroke="#000" stroke-width="1.1"/>
<path d="M1280.9,1290.9 C1280.4,1289.7 1278.7,1286.6 1277.9,1283.7 C1277.2,1280.9 1276.7,1277.4 1276.7,1273.8 C1276.7,1270.1 1277,1265.6 1277.9,1261.8 C1278.9,1258 1280.4,1254.3 1282.4,1250.8 C1284.5,1247.3 1287.4,1243.7 1290.4,1240.8 C1293.4,1238 1296.7,1235.8 1300.4,1233.8 C1304.1,1231.9 1308.5,1230.3 1312.4,1229.3 C1316.2,1228.4 1320,1227.9 1323.3,1227.9 C1326.7,1227.9 1329.9,1228.4 1332.3,1229.3 C1334.8,1230.3 1337.1,1232.7 1338,1233.3" fill="none" stroke="#000" stroke-width="1.1"/>
<path d="M1279.4,1227.9 L1288.4,1232.8 L1297.4,1237.8" fill="none" stroke="#000" stroke-width="1.1"/>
<path d="M1338,1233.3 L1338,1280.2" fill="none" stroke="#000" stroke-width="1.1"/>
<path d="M1309.4,1253.8 C1309.9,1254.3 1311.6,1255.3 1312.4,1256.8 C1313.1,1258.3 1313.4,1259.1 1313.9,1262.8 C1314.4,1266.4 1315,1273.6 1315.4,1278.7 C1315.8,1283.9 1316.2,1291.2 1316.4,1293.7" fill="none" stroke="#000" stroke-width="1.1"/>
<path d="M1267,1237.3 C1266.1,1238.7 1263,1242.7 1261.5,1245.8 C1260,1248.9 1258.7,1252.5 1258,1255.8 C1257.2,1259.1 1256.9,1262.8 1257,1265.8 C1257.1,1268.8 1257.6,1271.3 1258.5,1273.8 C1259.4,1276.2 1260.5,1278.2 1262.5,1280.2 C1264.5,1282.3 1268,1284.6 1270.5,1286.2 C1273,1287.8 1275.2,1288.8 1277.4,1289.7 C1279.7,1290.7 1282.9,1291.6 1283.9,1292 L1286.9,1284.7 L1288.4,1279.7 C1288.3,1278.7 1287.7,1275.7 1287.9,1273.8 C1288.2,1271.8 1289.1,1269.6 1289.9,1267.8 C1290.8,1265.9 1291.7,1264.4 1292.9,1262.8 C1294.2,1261.1 1295.8,1259.2 1297.4,1257.8 C1299,1256.4 1300.9,1255 1302.4,1254.3 C1303.9,1253.5 1305.2,1253.4 1306.4,1253.3 C1307.5,1253.2 1308.9,1253.7 1309.4,1253.8" fill="none" stroke="#000" stroke-width="2.2"/>
<path d="M1201.7,1369.3 L1185.2,1368.8 L1182.2,1369 L1180.8,1371.3 L1178.3,1392.3 L1181.7,1396.3" fill="none" stroke="#000" stroke-width="2.2"/>
<path d="M1193.7,1387.8 L1181.7,1396.3 C1180.4,1397.3 1176.2,1400.2 1173.8,1402.7 C1171.4,1405.2 1168.8,1408.3 1167.3,1411.2 C1165.7,1414.1 1164.8,1417.4 1164.5,1420.2 C1164.2,1423 1164.4,1425.9 1165.3,1428.2 C1166.2,1430.5 1167.7,1432.5 1169.8,1434.2 C1171.9,1435.8 1175.4,1437.3 1177.8,1438.2 C1180.1,1439.1 1182.7,1439.4 1183.7,1439.7 L1196.7,1438.2 L1197.7,1438.7 L1201.7,1462.1 C1202.5,1462.9 1204.7,1465.8 1206.7,1467.1 C1208.7,1468.4 1212,1469.5 1213.7,1470.1 C1215.3,1470.7 1215.5,1470.8 1216.7,1470.6 C1217.8,1470.3 1220,1468.9 1220.7,1468.6 L1256.6,1417.7 C1257.1,1417.7 1258.5,1418.1 1259.6,1417.5 C1260.7,1416.9 1262.5,1414.8 1263.1,1414.2" fill="none" stroke="#000" stroke-width="2.2"/>
<path d="M1264.1,1344.9 L1264.1,1414.2" fill="none" stroke="#000" stroke-width="1.6"/>
<path d="M1182.2,1369.8 C1183.8,1370.6 1198.5,1378 1200.7,1379.3 C1202.9,1380.6 1207,1384.1 1208.7,1385.3 C1210.4,1386.4 1219.7,1392.6 1220.7,1393.3" fill="none" stroke="#000" stroke-width="1.1"/>
<path d="M1201.7,1369.3 C1203.2,1370.3 1217.3,1380 1219.7,1380.8 C1222,1381.5 1228.9,1377.7 1229.6,1378.3 C1230.4,1378.9 1228.9,1385.3 1228.1,1388.3 C1227.4,1391.3 1221.5,1411.8 1220.7,1414.2 C1219.8,1416.6 1219.6,1416.6 1218.2,1416.7 C1216.8,1416.8 1204.7,1417.1 1203.7,1415.2 C1202.7,1413.3 1206.1,1396.4 1205.7,1394.3 C1205.3,1392.1 1199.7,1390.3 1198.7,1389.8 C1197.7,1389.2 1194.1,1387.9 1193.7,1387.8" fill="none" stroke="#000" stroke-width="1.1"/>
<path d="M1203.2,1378.3 C1203.7,1378.1 1208.2,1376.3 1208.7,1376.1" fill="none" stroke="#000" stroke-width="1.1"/>
<path d="M1263.6,1355.3 C1260.7,1357.2 1233.2,1375.1 1229.6,1377.3 C1226.1,1379.5 1221.4,1381 1220.7,1381.3" fill="none" stroke="#000" stroke-width="1.1"/>
<path d="M1228.1,1394.3 C1229.7,1392.8 1244.7,1378.2 1246.6,1376.3 C1248.6,1374.4 1250.9,1372.2 1251.6,1371.8 C1252.3,1371.4 1254.1,1371 1254.6,1371.1 C1255.1,1371.2 1257.3,1372.4 1257.6,1372.8 C1257.9,1373.2 1258.2,1372.1 1258.4,1375.8 C1258.5,1379.5 1259.5,1413.8 1259.6,1417.2" fill="none" stroke="#000" stroke-width="1.1"/>
<path d="M1247.6,1377.3 C1247.8,1380.1 1251.8,1405.1 1249.6,1411.2 C1247.4,1417.3 1224.2,1447.2 1221.7,1450.6 C1219.1,1454 1219.2,1452.1 1218.9,1452.1 C1218.5,1452.2 1217.8,1451.7 1217.7,1451.6" fill="none" stroke="#000" stroke-width="1.1"/>
<path d="M1252.1,1374.5 C1252.3,1377.3 1253.9,1405 1254.1,1408.2 C1254.3,1411.5 1257.3,1409.3 1254.9,1413.2 C1252.5,1417.1 1228.4,1451.4 1225.7,1455.1 C1222.9,1458.9 1222.2,1458 1221.7,1458.1 C1221.1,1458.3 1219.4,1458.7 1218.9,1456.8 C1218.3,1455 1215.2,1438.2 1214.7,1436.2 C1214.2,1434.1 1213.2,1432.6 1212.7,1432.2 C1212.2,1431.7 1209.5,1430.8 1208.7,1430.7 C1207.9,1430.6 1203.4,1431.3 1202.7,1431.2 C1202,1431.1 1200.8,1430.1 1200.7,1429.2 C1200.6,1428.3 1201,1421.4 1201.2,1420.2 C1201.5,1419 1203.5,1415.6 1203.7,1415.2" fill="none" stroke="#000" stroke-width="1.1"/>
<path d="M1249.6,1411.2 C1249.8,1411 1251.7,1408.7 1252.1,1408.4 C1252.5,1408.2 1253.9,1408.2 1254.1,1408.2" fill="none" stroke="#000" stroke-width="1.1"/>
<path d="M1252.4,1415.2 C1250.1,1418.5 1227,1451.1 1224.7,1454.3" fill="none" stroke="#000" stroke-width="1.1"/>
<path d="M1220.7,1393.3 C1220.4,1395.1 1217.9,1413.6 1217.7,1415.4" fill="none" stroke="#000" stroke-width="1.1"/>
<path d="M1224.7,1392.3 C1224.3,1394.1 1221.2,1412.2 1220.9,1414" fill="none" stroke="#000" stroke-width="1.1"/>
<path d="M1205.7,1394.3 C1204.9,1394.9 1198.3,1401 1196.7,1402.2 C1195.1,1403.5 1187.1,1409.1 1186.2,1409.7" fill="none" stroke="#000" stroke-width="1.1"/>
<path d="M1199.2,1390 C1198.3,1390.7 1190.4,1397.1 1188.7,1398.3 C1187,1399.4 1179.6,1403.7 1178.8,1404.2" fill="none" stroke="#000" stroke-width="1.1"/>
<path d="M1188.7,1394.3 C1189.6,1394.8 1197.9,1399.9 1198.7,1400.4" fill="none" stroke="#000" stroke-width="1.1"/>
<path d="M1175.8,1404.7 C1176.6,1405.2 1185.4,1409.3 1186.2,1409.7" fill="none" stroke="#000" stroke-width="1.1"/>
<path d="M1178.8,1404.2 C1178.3,1405 1173.5,1411.7 1172.8,1413.2 C1172.1,1414.7 1170.4,1420.9 1170.3,1422.2 C1170.1,1423.5 1170.7,1428 1171.3,1429.2 C1171.8,1430.4 1176.3,1436 1176.8,1436.7" fill="none" stroke="#000" stroke-width="1.1"/>
<path d="M1186.2,1409.7 C1185.7,1410.4 1180.5,1415.9 1179.8,1417.2 C1179,1418.5 1176.9,1423.9 1176.8,1425.2 C1176.6,1426.4 1177.3,1431.3 1177.8,1432.2 C1178.2,1433.1 1181,1435.4 1181.7,1435.7 C1182.5,1436 1184.7,1436.1 1186.7,1436 C1188.7,1435.8 1203.9,1434.2 1205.7,1434.2 C1207.5,1434.1 1208,1432.8 1208.7,1435.7 C1209.4,1438.5 1213.3,1465.4 1213.7,1468.1" fill="none" stroke="#000" stroke-width="1.1"/>
<path d="M1202.2,1424.7 C1202.7,1424.7 1207.8,1424.5 1208.7,1424.7 C1209.6,1424.9 1212.2,1426.2 1212.7,1426.7 C1213.1,1427.2 1213.8,1430.8 1213.9,1431.2" fill="none" stroke="#000" stroke-width="1.1"/>
<path d="M1202.2,1438.2 C1202.6,1440.4 1206.8,1463 1207.2,1465.3" fill="none" stroke="#000" stroke-width="1.1"/>
<ellipse cx="1191.4" cy="1423.2" rx="7.6" ry="10" transform="rotate(25 1191.4 1423.2)" fill="none" stroke="#000" stroke-width="1.1"/>
<path d="M1184.5,1428.2 C1184.8,1427.1 1185,1423.7 1186.2,1421.7 C1187.4,1419.7 1190.8,1417 1191.7,1416" fill="none" stroke="#000" stroke-width="1.1"/>
<path d="M1292.9,1262.8 C1293.1,1264.6 1293.7,1270.3 1293.9,1273.8 C1294.2,1277.2 1294.5,1280.7 1294.4,1283.7 C1294.3,1286.7 1294,1289.6 1293.4,1291.7 C1292.8,1293.9 1291.3,1295.9 1290.9,1296.7" fill="none" stroke="#000" stroke-width="2.2"/>
<path d="M1290.9,1296.7 C1286.5,1298.4 1273,1302.3 1264.5,1306.7 C1255.9,1311.1 1245,1319.6 1239.5,1323.1 C1234,1326.7 1234.9,1325.9 1231.5,1328.1 C1228.2,1330.4 1222.9,1333.5 1219.6,1336.6 C1216.2,1339.7 1213.9,1342.9 1211.6,1346.6 C1209.3,1350.3 1207.1,1354.9 1205.6,1358.6 C1204.1,1362.2 1203.3,1366.7 1202.6,1368.5 C1202,1370.4 1201.9,1369.4 1201.7,1369.5" fill="none" stroke="#000" stroke-width="2.2"/>
<path d="M1338,1280.2 C1337.9,1281.7 1337.9,1285.6 1337.3,1288.7 C1336.7,1291.8 1335.7,1295.7 1334.3,1298.7 C1333,1301.7 1331.3,1304.3 1329.3,1306.7 C1327.3,1309.1 1326,1310.3 1322.4,1313.2 C1318.7,1316 1312,1320.7 1307.4,1323.6 C1302.7,1326.6 1300.6,1328.2 1294.4,1331.1 C1288.3,1334 1278.8,1337.7 1270.5,1341.1 C1262.1,1344.5 1248.8,1349.8 1244.5,1351.6" fill="none" stroke="#000" stroke-width="2.2"/>
<path d="M1294.4,1283.7 C1295.7,1284.7 1298.8,1288 1302.4,1289.7 C1306,1291.5 1313.6,1293.5 1315.9,1294.2" fill="none" stroke="#000" stroke-width="1.1"/>
<path d="M1315.9,1294.2 C1319.6,1291.9 1334.3,1282.8 1338,1280.5" fill="none" stroke="#000" stroke-width="1.1"/>
<path d="M1316.4,1293.7 C1316.3,1295.4 1316.5,1300.4 1315.9,1303.7 C1315.2,1307 1313.8,1310.3 1312.4,1313.7 C1311,1317 1308.2,1322 1307.4,1323.6" fill="none" stroke="#000" stroke-width="1.1"/>
<path d="M1290.9,1296.7 C1290.3,1297.7 1289.2,1300.9 1287.4,1302.7 C1285.7,1304.4 1288.8,1303.5 1280.4,1307.2 C1272.1,1310.8 1245.7,1321.1 1237.5,1324.6 C1229.4,1328.1 1232.5,1327.6 1231.5,1328.1" fill="none" stroke="#000" stroke-width="1.1"/>
<path d="M1280.4,1307.2 C1281.3,1309.1 1283.3,1314.7 1285.4,1318.7 C1287.6,1322.6 1292.1,1329 1293.4,1331.1" fill="none" stroke="#000" stroke-width="1.1"/>
<path d="M1231.5,1328.1 C1232.2,1330.2 1233.4,1336.7 1235.5,1340.6 C1237.7,1344.5 1243,1349.8 1244.5,1351.6" fill="none" stroke="#000" stroke-width="1.1"/>
<path d="M1244.5,1351.6 C1243.2,1352.2 1239.2,1353.6 1236.5,1355.6 C1233.9,1357.6 1230.7,1360.7 1228.6,1363.6 C1226.4,1366.4 1224.8,1369.6 1223.6,1372.5 C1222.3,1375.4 1221.6,1379.6 1221.2,1381" fill="none" stroke="#000" stroke-width="1.1"/>
<path d="M1264.2,1343.6 C1264.1,1345.6 1263.6,1353.6 1263.5,1355.6" fill="none" stroke="#000" stroke-width="1.1"/>
</g>
<path d="M1417.5,1363 L1468.3,1366 L1458.3,1374 L1516,1405 L1492.7,1419.3 L1435,1386.7 L1424.5,1391.5Z" fill="#fff" stroke="#000" stroke-width="2.6"/>
<path d="M1362.7,1486 L1348.3,1520.7" fill="none" stroke="#000" stroke-width="1.1"/>
<circle cx="1331" cy="1559.3" r="41.5" fill="#fff" stroke="#000" stroke-width="2.2"/>
<text transform="translate(1331 1576) scale(1.000 1)" font-size="50" font-weight="bold" text-anchor="middle">1</text>
<path d="M1617.2,1560.7 L2155.7,1247.2 C2160.1,1245.3 2173.2,1238.8 2182,1235.8 C2190.7,1232.9 2201.3,1230.4 2208.2,1229.7 C2215.1,1229.1 2218,1229.6 2223.5,1231.9 C2229,1234.2 2237.7,1239.9 2241,1243.7 C2244.3,1247.5 2244.3,1251 2243.2,1254.6 C2242.1,1258.3 2240.1,1260.3 2234.4,1265.6 C2228.7,1270.8 2213.3,1282.7 2209.1,1286.1 L1963.4,1442.6 L1618,1644.3 C1616.4,1644.8 1611.5,1647.9 1608.2,1647.5 C1604.9,1647.1 1600,1643 1598.4,1642.1 L1549.2,1614.2 C1548.3,1613.1 1544.8,1609.9 1543.9,1607.5 C1543,1605.1 1543.8,1601.2 1543.8,1600 L1543.8,1330" fill="#fff" stroke="#000" stroke-width="2.2"/>
<path d="M1617.6,1560.7 L1617.6,1300" fill="none" stroke="#000" stroke-width="2.2"/>
<path d="M1617.6,1560.7 L1616.7,1604 C1616.9,1605 1617.3,1608.3 1618,1610 C1618.7,1611.7 1619.8,1613 1621,1614 C1622.2,1615 1623.3,1615.8 1625,1615.8 C1626.7,1615.8 1630.1,1614 1631.1,1613.7" fill="none" stroke="#000" stroke-width="2.2"/>
<path d="M1631.1,1613.7 L2208.2,1280.9 L2210.4,1286.6" fill="none" stroke="#000" stroke-width="1.1"/>
<path d="M1618.6,1607.7 L1630,1614.2" fill="none" stroke="#000" stroke-width="1.1"/>
<path d="M1596.3,1300 L1596.3,1631.7 C1596.5,1633.3 1596.4,1639 1597.3,1641.5 C1598.2,1644 1600.9,1645.6 1601.6,1646.4" fill="none" stroke="#000" stroke-width="1.1"/>
<path d="M1544.8,1601.1 L1596.3,1630.2" fill="none" stroke="#000" stroke-width="1.1"/>
<path d="M1553.6,1124.8 L1562.7,1086.3 L1567.8,1083.9 L1573.2,1083 L1573.2,1069.5 L1576.2,1067.7 L1603.2,1083.3 L1603.2,1098.9 L1605.6,1102.5 L1605.6,1266 L1553.6,1266Z" fill="#fff"/>
<path d="M1553.6,1270.8 L1553.6,1124.8 L1562.7,1086.3 C1563.6,1085.9 1566,1084.4 1567.8,1083.9 C1569.5,1083.3 1572.3,1083.2 1573.2,1083 L1573.2,1069.5 L1576.2,1067.7 L1603.2,1083.3 L1603.2,1098.9 L1605.6,1102.5 L1605.6,1266.6" fill="none" stroke="#000" stroke-width="2.2"/>
<path d="M1556.7,1270.8 L1556.7,1125.6 L1565.4,1088.7" fill="none" stroke="#000" stroke-width="1.1"/>
<path d="M1565.4,1088.7 C1566,1088.3 1567.7,1086.9 1569,1086.3 C1570.3,1085.7 1572.5,1085.3 1573.2,1085.1" fill="none" stroke="#000" stroke-width="1.1"/>
<path d="M1569,1086.3 L1569,1250.4" fill="none" stroke="#000" stroke-width="1.1"/>
<path d="M1572.3,1085.1 L1572.3,1250.4" fill="none" stroke="#000" stroke-width="1.1"/>
<path d="M1575,1071.5 L1600.2,1086.3 L1600.2,1099.1" fill="none" stroke="#000" stroke-width="1.1"/>
<path d="M1600.2,1099.1 L1602.9,1101.6 L1602.9,1104.9 L1598.4,1105.9" fill="none" stroke="#000" stroke-width="1.6"/>
<ellipse cx="1586.8" cy="1119.6" rx="4" ry="9.9" transform="rotate(-28 1586.8 1119.6)" fill="none" stroke="#000" stroke-width="1.6"/>
<path d="M1598.4,1105.9 L1587.8,1143.1 L1587.8,1275.6 L1590.6,1276.8 L1590.6,1145.8 L1600.8,1107.6Z" fill="#fff"/>
<path d="M1598.4,1105.9 L1587.8,1143.1 L1587.8,1275.6" fill="none" stroke="#000" stroke-width="2.2"/>
<path d="M1600.8,1107.6 L1590.6,1145.8 L1590.6,1277.4" fill="none" stroke="#000" stroke-width="1.1"/>
<path d="M1603.6,1104.9 L1603.6,1269.6" fill="none" stroke="#000" stroke-width="1.1"/>
<path d="M1543.8,1310.9 L1543.8,1340" fill="none" stroke="#000" stroke-width="2"/>
<path d="M1543.6,1274.4 L1543.6,1252.6 L1551.6,1248" fill="none" stroke="#000" stroke-width="2"/>
<path d="M1543.6,1252.7 L1551.7,1257.2" fill="none" stroke="#000" stroke-width="0.9"/>
<path d="M1605.6,1264.6 L1617.7,1271.2 L1617.7,1300" fill="none" stroke="#000" stroke-width="2"/>
<path d="M1617.7,1271.2 L1596.4,1283.2 L1584.4,1276.2" fill="none" stroke="#000" stroke-width="0.9"/>
<path d="M1596.4,1283.2 L1596.4,1340" fill="none" stroke="#000" stroke-width="0.9"/>
<path d="M1605.6,1266.2 C1605.5,1266.5 1605.6,1267.6 1605.3,1268.2 C1605,1268.7 1604,1269.4 1603.8,1269.7" fill="none" stroke="#000" stroke-width="1.6"/>
<path d="M1603.8,1269.7 L1590.6,1277.4 L1587.9,1276" fill="none" stroke="#000" stroke-width="0.9"/>
<path d="M1568.6,1251 C1568.7,1250.8 1569.1,1250.3 1569.4,1250.1 C1569.8,1250 1570.1,1249.8 1570.6,1249.8 C1571.1,1249.8 1572.3,1250.3 1572.6,1250.4 L1587.7,1258.8" fill="none" stroke="#000" stroke-width="0.9"/>
<path d="M1567,1265.7 L1574.5,1270.1" fill="none" stroke="#000" stroke-width="0.9"/>
<path d="M1568.6,1251 L1568.6,1270.9" fill="none" stroke="#000" stroke-width="0.9"/>
<path d="M1530.7,1284.3 L1530.9,1282.9 L1531.4,1281.9 L1532.5,1281.2 L1543.4,1274.8 L1545.2,1273.8 L1547.8,1271.4 L1551.6,1269.5 L1573.4,1259.1 L1584.7,1285.9 L1587.7,1289.6 L1590.7,1294.9 L1592.7,1299.6 L1593.4,1302.3 L1593.4,1310.3 L1591.4,1312 L1589.4,1314.6 L1588.4,1317.3 L1584.5,1331.4 L1578.7,1334.8 L1577.4,1335.2 L1576.2,1334.8 L1531.4,1308.8 L1530.7,1307.6Z" fill="#fff"/>
<path d="M1576.2,1334.8 L1531.4,1308.8 C1531.3,1308.7 1531,1308.5 1530.9,1308.3 C1530.7,1308.1 1530.7,1307.7 1530.7,1307.6 L1530.7,1284.3 C1530.7,1284 1530.7,1283.3 1530.9,1282.9 C1531,1282.5 1531.1,1282.2 1531.4,1281.9 C1531.7,1281.7 1532.3,1281.3 1532.5,1281.2 L1543.4,1274.8" fill="none" stroke="#000" stroke-width="2"/>
<path d="M1584.7,1285.9 C1585.2,1286.5 1586.7,1288.1 1587.7,1289.6 C1588.7,1291.1 1589.9,1293.3 1590.7,1294.9 C1591.6,1296.6 1592.3,1298.4 1592.7,1299.6 C1593.2,1300.8 1593.3,1301.8 1593.4,1302.3 L1593.4,1310.3 C1593.1,1310.6 1592.1,1311.3 1591.4,1312 C1590.7,1312.7 1589.9,1313.8 1589.4,1314.6 C1588.9,1315.5 1588.6,1316.9 1588.4,1317.3 L1584.6,1331.1 C1584.5,1331.2 1584.4,1331.6 1584.2,1331.7 C1584.1,1331.9 1583.7,1332 1583.5,1332.1 L1578.7,1334.8 C1578.5,1334.9 1577.8,1335.4 1577.4,1335.4 C1577,1335.4 1576.4,1334.9 1576.2,1334.8" fill="none" stroke="#000" stroke-width="2"/>
<path d="M1545.2,1273.8 C1545.4,1273.6 1545.9,1272.9 1546.4,1272.4 C1547,1272 1547.8,1271.5 1548.6,1271 C1549.5,1270.5 1551.2,1269.9 1551.7,1269.7" fill="none" stroke="#000" stroke-width="2"/>
<path d="M1545.8,1274.1 C1546.1,1274 1546.8,1273.4 1547.4,1273.1 C1548,1272.8 1548.7,1272.6 1549.4,1272.4 C1550.1,1272.3 1551.3,1272.1 1551.7,1272" fill="none" stroke="#000" stroke-width="0.9"/>
<path d="M1543.4,1274.8 L1545.8,1273.5" fill="none" stroke="#000" stroke-width="0.9"/>
<path d="M1543.2,1275.3 L1548.2,1278.2" fill="none" stroke="#000" stroke-width="0.9"/>
<path d="M1533.1,1281.5 L1576.3,1306.5" fill="none" stroke="#000" stroke-width="0.9"/>
<path d="M1531.1,1282.9 L1575.3,1308.4" fill="none" stroke="#000" stroke-width="0.9"/>
<path d="M1575.3,1294.3 L1586.5,1300.6" fill="none" stroke="#000" stroke-width="0.9"/>
<path d="M1579.4,1293.9 L1586,1297.9" fill="none" stroke="#000" stroke-width="0.9"/>
<path d="M1576.7,1306.1 L1586.7,1300.4" fill="none" stroke="#000" stroke-width="0.9"/>
<path d="M1577.5,1307.1 L1587.2,1301.4 C1587.4,1301.2 1588.1,1300.7 1588.3,1300.3 C1588.5,1299.8 1588.5,1299.4 1588.3,1298.8 C1588.1,1298.1 1587.7,1297.4 1587.1,1296.3 C1586.4,1295.1 1585.1,1292.5 1584.7,1291.7" fill="none" stroke="#000" stroke-width="0.9"/>
<path d="M1586.7,1300.4 C1586.8,1300.2 1587.3,1299.7 1587.3,1299.3 C1587.4,1298.9 1587.3,1298.6 1587.1,1298.1 C1586.8,1297.6 1586.6,1297.3 1586,1296.4 C1585.5,1295.5 1584.1,1293.2 1583.7,1292.6" fill="none" stroke="#000" stroke-width="0.9"/>
<path d="M1586,1297.9 L1587.9,1297.1" fill="none" stroke="#000" stroke-width="0.9"/>
<path d="M1578.4,1311.1 L1593.1,1302.9" fill="none" stroke="#000" stroke-width="0.9"/>
<path d="M1575.5,1307.8 C1575.6,1307.6 1575.6,1307.1 1575.7,1306.8 C1575.9,1306.5 1576.5,1306.2 1576.7,1306.1" fill="none" stroke="#000" stroke-width="0.9"/>
<path d="M1575.5,1307.8 C1575.6,1308.1 1575.8,1309.1 1575.9,1309.6 C1576.1,1310.2 1576.2,1310.8 1576.4,1311.1 C1576.7,1311.5 1577.2,1311.6 1577.5,1311.6 C1577.8,1311.6 1578.2,1311.2 1578.4,1311.1" fill="none" stroke="#000" stroke-width="0.9"/>
<path d="M1576.7,1306.1 C1576.8,1306.2 1577.1,1306.2 1577.4,1306.6 C1577.6,1307 1577.8,1307.9 1578,1308.6 C1578.2,1309.4 1578.4,1310.7 1578.4,1311.1" fill="none" stroke="#000" stroke-width="0.9"/>
<path d="M1576.3,1311.4 L1576.6,1334.6" fill="none" stroke="#000" stroke-width="0.9"/>
<path d="M1578.5,1311.2 L1578.7,1334.6" fill="none" stroke="#000" stroke-width="0.9"/>
<path d="M1572.8,1283.5 L1572.7,1281.2 C1572.8,1281 1572.8,1280.5 1573,1280.2 C1573.2,1279.9 1573.8,1279.6 1574,1279.5 L1576.7,1278.4 C1576.8,1278.4 1577.4,1278.2 1577.7,1278.4 C1578,1278.5 1578.2,1279.2 1578.4,1279.4" fill="none" stroke="#000" stroke-width="2"/>
<path d="M1573.5,1283.7 L1573.5,1281.5 L1574.2,1280.5 L1577,1279" fill="none" stroke="#000" stroke-width="0.9"/>
<path d="M1570.3,1282.2 L1572.8,1283.5" fill="none" stroke="#000" stroke-width="0.9"/>
<path d="M1574.2,1280.5 L1579.7,1284.9" fill="none" stroke="#000" stroke-width="0.9"/>
<path d="M1575.3,1281.4 C1575.8,1281.6 1577.1,1282.1 1578,1282.9 C1578.9,1283.6 1580.3,1285.4 1580.7,1285.9" fill="none" stroke="#000" stroke-width="0.9"/>
<path d="M1568.1,1279.5 L1568.9,1279.9 L1569.7,1280.8 L1570.1,1282.2 L1570.2,1290.3 L1569.3,1291.6 L1568,1292.4 L1566.6,1292.9 L1564.9,1292.7 L1562.2,1292.3 L1562.2,1281.6 L1568.1,1279.7Z" fill="#fff"/>
<path d="M1568.1,1279.5 C1568.2,1279.5 1568.7,1279.7 1568.9,1279.9 C1569.2,1280.1 1569.5,1280.4 1569.7,1280.8 C1569.9,1281.2 1570.1,1281.9 1570.1,1282.2 L1570.2,1290.3 C1570,1290.5 1569.7,1291.3 1569.3,1291.6 C1569,1292 1568.4,1292.2 1568,1292.4 C1567.5,1292.6 1567.1,1292.8 1566.6,1292.9 C1566.1,1292.9 1565.6,1292.8 1564.9,1292.7 C1564.1,1292.6 1562.6,1292.4 1562.2,1292.3" fill="none" stroke="#000" stroke-width="2"/>
<path d="M1569.1,1283.9 L1569.1,1291.4" fill="none" stroke="#000" stroke-width="0.9"/>
<path d="M1568.1,1282.6 C1568.2,1282.6 1568.6,1282.7 1568.7,1282.9 C1568.9,1283.2 1569.1,1283.7 1569.1,1283.9" fill="none" stroke="#000" stroke-width="0.9"/>
<path d="M1568.7,1280 C1568.8,1280.3 1569.3,1280.9 1569.3,1281.4 C1569.4,1281.9 1569.3,1282.6 1569.2,1282.9 C1569.1,1283.3 1568.8,1283.4 1568.7,1283.5" fill="none" stroke="#000" stroke-width="0.9"/>
<path d="M1561.4,1258.4 L1562.9,1257.8 L1567.6,1268.1 L1568,1270.5 L1568,1291.7 L1566.4,1292.9 L1566.4,1271.3 L1566.2,1268.5Z" fill="#fff"/>
<path d="M1562.9,1257.8 L1567.6,1268.1 C1567.6,1268.3 1567.8,1268.7 1567.9,1269.1 C1568,1269.5 1568,1270.3 1568,1270.5 L1568,1292.3" fill="none" stroke="#000" stroke-width="2"/>
<path d="M1561.4,1258.4 L1566.2,1268.5 L1566.4,1271.3 L1566.4,1292.9" fill="none" stroke="#000" stroke-width="0.9"/>
<path d="M1566.4,1271.1 L1568,1270.3" fill="none" stroke="#000" stroke-width="0.9"/>
<path d="M1562.9,1284.5 C1563.1,1284.5 1563.9,1284.8 1564.5,1284.8 C1565.1,1284.7 1566,1284.4 1566.3,1284.3" fill="none" stroke="#000" stroke-width="0.9"/>
<path d="M1562.9,1285.6 C1563.2,1285.7 1564.1,1285.9 1564.7,1285.9 C1565.3,1285.8 1566.4,1285.4 1566.7,1285.3" fill="none" stroke="#000" stroke-width="0.9"/>
<path d="M1563,1282.5 L1566.3,1284.3" fill="none" stroke="#000" stroke-width="0.9"/>
<path d="M1566.9,1285.5 L1566.9,1292.7" fill="none" stroke="#000" stroke-width="0.9"/>
<path d="M1566.8,1288 C1566.9,1287.9 1567.4,1287.6 1567.6,1287.8 C1567.7,1287.9 1567.8,1288.4 1567.8,1288.7 C1567.7,1289 1567.4,1289.4 1567.2,1289.5 C1567,1289.6 1566.9,1289.6 1566.8,1289.6" fill="none" stroke="#000" stroke-width="0.9"/>
<path d="M1561.4,1274.1 L1562.9,1273.4" fill="none" stroke="#000" stroke-width="0.9"/>
<path d="M1561.4,1291 L1562.8,1290.4" fill="none" stroke="#000" stroke-width="0.9"/>
<path d="M1566.5,1270.8 L1568,1270.1" fill="none" stroke="#000" stroke-width="0.9"/>
<path d="M1562.6,1274.5 C1562.8,1274.7 1563.5,1275.2 1563.8,1275.7 C1564,1276.2 1564.2,1276.9 1564.2,1277.3 C1564.1,1277.7 1563.6,1278.2 1563.4,1278.3 C1563.2,1278.4 1562.9,1278.1 1562.9,1278.1" fill="none" stroke="#000" stroke-width="0.9"/>
<path d="M1551.7,1287.3 L1551.7,1250.6 L1552.1,1248 L1553.5,1246.1 L1555.3,1245.1 L1557.3,1245.5 L1558.5,1246.9 L1558.9,1249 L1558.3,1250.3 L1558.7,1253.1 L1562.7,1270.5 L1562.8,1274.1 L1562.9,1291.1 L1561.8,1292.7 L1560.2,1293.7 L1558.2,1293.6 L1556.2,1291.9 L1554.8,1289.7 L1552.6,1288.5Z" fill="#fff"/>
<path d="M1551.7,1287.3 L1551.7,1250.6 C1551.8,1250.2 1551.8,1248.7 1552.1,1248 C1552.4,1247.3 1553,1246.6 1553.5,1246.1 C1554,1245.6 1554.7,1245.2 1555.3,1245.1 C1556,1245 1556.8,1245.2 1557.3,1245.5 C1557.9,1245.8 1558.3,1246.3 1558.5,1246.9 C1558.8,1247.5 1558.8,1248.7 1558.9,1249 L1558.3,1250.3 L1558.7,1253.1" fill="none" stroke="#000" stroke-width="2"/>
<path d="M1551.7,1287.3 C1551.9,1287.5 1552.1,1288.1 1552.6,1288.5 C1553.1,1288.9 1554.2,1289.1 1554.8,1289.7 C1555.4,1290.2 1555.6,1291.2 1556.2,1291.9 C1556.8,1292.5 1557.5,1293.3 1558.2,1293.6 C1558.9,1293.9 1559.6,1293.8 1560.2,1293.7 C1560.8,1293.5 1561.4,1293.1 1561.8,1292.7 C1562.2,1292.3 1562.5,1291.5 1562.7,1291.3" fill="none" stroke="#000" stroke-width="2"/>
<path d="M1553.9,1246.8 L1553.9,1250.5 L1552.7,1252.4 L1561.4,1272.3 L1561.5,1292.1" fill="none" stroke="#000" stroke-width="0.9"/>
<path d="M1552.7,1246.5 C1552.6,1246.8 1552.3,1247.9 1552.2,1248.6 C1552.1,1249.3 1552.1,1250 1552.1,1250.6 C1552.2,1251.2 1552.6,1252.1 1552.7,1252.4" fill="none" stroke="#000" stroke-width="0.9"/>
<path d="M1556.7,1246 L1556.8,1256.4 L1562.7,1270.5 C1562.7,1270.8 1562.8,1271.5 1562.8,1272.1 C1562.9,1272.7 1562.8,1273.8 1562.8,1274.1 L1562.9,1291.1" fill="none" stroke="#000" stroke-width="0.9"/>
<path d="M1561.4,1272.3 L1562.7,1270.5" fill="none" stroke="#000" stroke-width="0.9"/>
<path d="M1552.7,1246.5 L1553.9,1246.8" fill="none" stroke="#000" stroke-width="0.9"/>
<path d="M1558.3,1250.3 L1557.5,1250.6" fill="none" stroke="#000" stroke-width="0.9"/>
<ellipse cx="1557.6" cy="1279.5" rx="2.3" ry="3.1" transform="rotate(-14 1557.6 1279.5)" fill="none" stroke="#000" stroke-width="0.9"/>
<path d="M1558.7,1253.1 L1562.9,1257.8" fill="none" stroke="#000" stroke-width="2"/>
<path d="M1576.7,1278.4 C1576.9,1278.4 1577.5,1278.3 1578,1278.6 C1578.6,1278.8 1579.3,1279.2 1580,1279.9 C1580.8,1280.5 1581.6,1281.5 1582.4,1282.5 C1583.1,1283.5 1584.3,1285.3 1584.7,1285.9" fill="none" stroke="#000" stroke-width="2"/>
<path d="M1577,1279 C1577.4,1279.3 1578.5,1279.7 1579.4,1280.5 C1580.2,1281.3 1581.1,1282 1582,1283.9 C1582.9,1285.7 1584.3,1290.4 1584.7,1291.7" fill="none" stroke="#000" stroke-width="0.9"/>
<path d="M1534,1539.3 L1540,1536.7 L1580,1560.7 L1580,1566.7 L1586.7,1563.3 L1591.7,1568.3 L1591.7,1580 L1585,1584 L1534,1555Z" fill="#fff" stroke="#000" stroke-width="2.2"/>
<path d="M1545,1551.7 L1566.7,1564 L1566.7,1569.3 L1545,1557.3Z" fill="none" stroke="#000" stroke-width="1.6"/>
<path d="M1548,1554 L1565,1563.6" fill="none" stroke="#000" stroke-width="1.1"/>
<path d="M1534,1541 L1585,1570 L1585,1584" fill="none" stroke="#000" stroke-width="1.1"/>
<path d="M1585,1570 L1591.7,1568.3" fill="none" stroke="#000" stroke-width="1.1"/>
<path d="M1556,1567.5 L1562,1570.8" fill="none" stroke="#000" stroke-width="2.4"/>
<!-- p40_C -->
<clipPath id="cpC"><rect x="4" y="1714.2" width="1578" height="902.9"/></clipPath><g clip-path="url(#cpC)">
<path d="M387.7,2148.8 L387.7,2598.3" fill="none" stroke="#000" stroke-width="2.2"/>
<path d="M386.9,1989.2 L386.9,1893.8 L421.8,1873.8" fill="none" stroke="#000" stroke-width="2.2"/>
<path d="M386.9,1894.5 L422.3,1913.8" fill="none" stroke="#000" stroke-width="1.1"/>
<path d="M657.9,1946.3 L710.7,1975.1 L710.7,2598.3" fill="none" stroke="#000" stroke-width="2.2"/>
<path d="M710.7,1975.1 L617.6,2027.9 L565.1,1997" fill="none" stroke="#000" stroke-width="1.1"/>
<path d="M617.6,2027.9 L617.6,2603.3" fill="none" stroke="#000" stroke-width="1.1"/>
<path d="M430.6,1726.7 L430.6,1973.7" fill="none" stroke="#000" stroke-width="2.2"/>
<path d="M442.3,1720 L442.3,1973.7" fill="none" stroke="#000" stroke-width="1.1"/>
<path d="M500.6,1720 L500.6,1884.7" fill="none" stroke="#000" stroke-width="1.1"/>
<path d="M514.3,1720 L514.3,1884.7" fill="none" stroke="#000" stroke-width="1.1"/>
<path d="M580.6,1724.1 L580.6,1996.4" fill="none" stroke="#000" stroke-width="2.2"/>
<path d="M592.1,1724.1 L592.1,2002.1" fill="none" stroke="#000" stroke-width="1.1"/>
<path d="M649.9,1720 L649.9,1968.5" fill="none" stroke="#000" stroke-width="1.1"/>
<path d="M657.9,1720 L657.9,1955.2" fill="none" stroke="#000" stroke-width="2.2"/>
<path d="M657.9,1953.2 C657.6,1954.6 657.8,1959.3 656.5,1961.9 C655.2,1964.5 651,1967.4 649.9,1968.5" fill="none" stroke="#000" stroke-width="1.6"/>
<path d="M649.9,1968.5 L592.2,2002.2 L580.5,1996.4" fill="none" stroke="#000" stroke-width="1.1"/>
<path d="M495.9,1886.7 C496.5,1886.1 498.1,1884 499.6,1883.1 C501.1,1882.3 502.4,1881.4 504.8,1881.6 C507.1,1881.8 512.1,1883.7 513.5,1884.2 L579.6,1921" fill="none" stroke="#000" stroke-width="1.1"/>
<path d="M488.9,1951.4 L522.1,1970.5" fill="none" stroke="#000" stroke-width="1.1"/>
<path d="M30,2164 L39.3,1965 L56,1939.3 L68.3,1926.7 L79,1896.7 L101,1887.3 L270.7,1985.7 L270.7,2006.7 L288.3,2016.7 L308.3,2006 L663.3,2211.7 L663.3,2232.7 L680,2242.7 L700,2232.7 L840,2314 L840,2552.7 L771,2591.7Z" fill="#fff"/>
<path d="M64.3,1865.7 L64.3,1886.7 L79,1896.7" fill="none" stroke="#000" stroke-width="1.1"/>
<path d="M79,1896.7 L101,1887.3 L270.7,1985.7 L270.7,2006.7 L288.3,2016.7 L308.3,2006 L663.3,2211.7 L663.3,2232.7 L680,2242.7 L700,2232.7 L840,2314 L840,2552.7 L771,2591.7 L30,2164" fill="none" stroke="#000" stroke-width="2.2"/>
<path d="M39.3,1965 L771,2387.7 L771,2591.7" fill="none" stroke="#000" stroke-width="1.1"/>
<path d="M56,1939.3 L800,2371.7" fill="none" stroke="#000" stroke-width="1.1"/>
<path d="M79,1896.7 L76,1902.7 L68.3,1926.7" fill="none" stroke="#000" stroke-width="1.1"/>
<path d="M76,1902.7 L246.7,2000" fill="none" stroke="#000" stroke-width="1.1"/>
<path d="M270.7,1986.7 L246.7,2000 L239.3,2024.3 L275.7,2045.7 L282.7,2021.7 L288.3,2016.7" fill="none" stroke="#000" stroke-width="1.1"/>
<path d="M239.3,2024.3 L270.7,2006.7" fill="none" stroke="#000" stroke-width="1.1"/>
<path d="M663.3,2212.7 L639.3,2226 L631.9,2250.3 L668.3,2271.7 L675.3,2247.7 L680.9,2242.7" fill="none" stroke="#000" stroke-width="1.1"/>
<path d="M631.9,2250.3 L663.3,2232.7" fill="none" stroke="#000" stroke-width="1.1"/>
<path d="M282.7,2021.7 L639.3,2226" fill="none" stroke="#000" stroke-width="1.1"/>
<path d="M675.3,2247.7 L815,2326.7" fill="none" stroke="#000" stroke-width="1.1"/>
<path d="M771,2387.7 L796,2374 C796.7,2373.3 799,2371.7 800,2370 C801,2368.3 801.7,2365 802,2364 L815,2326.7 L840,2314" fill="none" stroke="#000" stroke-width="1.1"/>
<ellipse cx="759.3" cy="2364.3" rx="11" ry="6.7" transform="rotate(0 759.3 2364.3)" fill="none" stroke="#000" stroke-width="1.1"/>
<path d="M330.2,2032.4 L331,2026.3 L333.3,2022.1 L338,2019 L386,1991.1 L393.9,1986.6 L405.2,1976.1 L421.8,1967.9 L517.1,1922.3 L566.5,2039.4 L579.7,2055.6 L592.9,2079 L601.7,2099.5 L604.5,2111.2 L604.5,2146.3 L595.8,2153.6 L587,2165.2 L582.6,2177 L565.4,2238.5 L540.1,2253.4 L534.4,2255.3 L529.5,2253.3 L333.3,2139.5 L330.2,2134.4Z" fill="#fff"/>
<path d="M529.5,2253.3 L333.3,2139.5 C332.9,2139.2 331.5,2138.3 331,2137.4 C330.5,2136.6 330.4,2134.9 330.2,2134.4 L330.2,2032.4 C330.4,2031.4 330.5,2028 331,2026.3 C331.5,2024.5 332.2,2023.3 333.3,2022.1 C334.5,2020.9 337.2,2019.6 338,2019 L386,1991.1" fill="none" stroke="#000" stroke-width="2.2"/>
<path d="M566.5,2039.4 C568.7,2042.1 575.3,2049 579.7,2055.6 C584.1,2062.2 589.2,2071.7 592.9,2079 C596.6,2086.3 599.7,2094.1 601.7,2099.5 C603.6,2104.8 604.1,2109.2 604.5,2111.2 L604.5,2146.3 C603.1,2147.5 598.7,2150.5 595.8,2153.6 C592.9,2156.8 589.2,2161.4 587,2165.2 C584.8,2169.1 583.3,2175 582.6,2177 L566,2237.3 C565.8,2237.7 565.3,2239.2 564.5,2239.9 C563.7,2240.6 561.9,2241.2 561.4,2241.4 L540.1,2253.4 C539.2,2253.8 536.4,2255.9 534.6,2255.9 C532.9,2255.8 530.3,2253.7 529.5,2253.3" fill="none" stroke="#000" stroke-width="2.2"/>
<path d="M393.9,1986.6 C394.8,1985.6 396.6,1982.7 399.1,1980.7 C401.6,1978.6 404.9,1976.4 408.7,1974.4 C412.5,1972.3 419.9,1969.4 422.1,1968.4" fill="none" stroke="#000" stroke-width="2.2"/>
<path d="M396.5,1988 C397.7,1987.3 400.9,1984.8 403.5,1983.6 C406.1,1982.4 409.1,1981.4 412.2,1980.7 C415.3,1979.9 420.5,1979.2 422.1,1978.9" fill="none" stroke="#000" stroke-width="1.1"/>
<path d="M386,1991.1 L396.5,1985.4" fill="none" stroke="#000" stroke-width="1.1"/>
<path d="M385.2,1993.2 L407,2005.9" fill="none" stroke="#000" stroke-width="1.1"/>
<path d="M340.7,2020.2 L529.9,2129.6" fill="none" stroke="#000" stroke-width="1.1"/>
<path d="M332,2026.3 L525.6,2138" fill="none" stroke="#000" stroke-width="1.1"/>
<path d="M525.6,2076 L574.6,2103.8" fill="none" stroke="#000" stroke-width="1.1"/>
<path d="M543.1,2074.6 L572.4,2092.1" fill="none" stroke="#000" stroke-width="1.1"/>
<path d="M531.4,2128 L575.3,2103.1" fill="none" stroke="#000" stroke-width="1.1"/>
<path d="M535.1,2132.3 L577.5,2107.5 C578.3,2106.6 581.5,2104.3 582.3,2102.4 C583.1,2100.4 583.2,2098.7 582.3,2095.8 C581.4,2092.9 579.4,2089.9 576.8,2084.8 C574.1,2079.7 568.2,2068.3 566.5,2065.1" fill="none" stroke="#000" stroke-width="1.1"/>
<path d="M575.3,2103.1 C575.7,2102.2 577.7,2099.7 577.9,2098 C578.2,2096.3 577.7,2094.9 576.8,2092.9 C575.8,2090.8 574.8,2089.6 572.4,2085.5 C569.9,2081.5 563.8,2071.5 562.1,2068.7" fill="none" stroke="#000" stroke-width="1.1"/>
<path d="M572.4,2092.1 L580.4,2088.5" fill="none" stroke="#000" stroke-width="1.1"/>
<path d="M538.7,2149.9 L603.4,2114.1" fill="none" stroke="#000" stroke-width="1.1"/>
<path d="M526.3,2135.3 C526.5,2134.5 526.5,2132.1 527.3,2130.9 C528.2,2129.7 530.7,2128.4 531.4,2128" fill="none" stroke="#000" stroke-width="1.1"/>
<path d="M526.3,2135.3 C526.6,2136.6 527.5,2140.9 528.2,2143.3 C528.9,2145.8 529.1,2148.4 530.2,2149.9 C531.4,2151.4 533.7,2152.1 535.1,2152.1 C536.5,2152.1 538.1,2150.3 538.7,2149.9" fill="none" stroke="#000" stroke-width="1.1"/>
<path d="M531.4,2128 C531.9,2128.3 533.4,2128.3 534.3,2130.2 C535.3,2132 536.5,2135.6 537.3,2138.9 C538,2142.2 538.7,2148.1 539,2149.9" fill="none" stroke="#000" stroke-width="1.1"/>
<path d="M529.9,2150.9 L531.1,2252.5" fill="none" stroke="#000" stroke-width="1.1"/>
<path d="M539.3,2150.2 L540.1,2252.5" fill="none" stroke="#000" stroke-width="1.1"/>
<path d="M514.6,2029.2 L514.2,2019 C514.3,2018.2 514.4,2015.8 515.3,2014.6 C516.2,2013.4 519,2012.2 519.7,2011.7 L531.4,2006.5 C532.1,2006.5 534.6,2005.8 535.8,2006.5 C537,2007.3 538.2,2010.2 538.7,2010.9" fill="none" stroke="#000" stroke-width="2.2"/>
<path d="M517.5,2029.9 L517.5,2020.4 L520.4,2016.1 L532.9,2009.5" fill="none" stroke="#000" stroke-width="1.1"/>
<path d="M503.6,2023.4 L514.6,2029.2" fill="none" stroke="#000" stroke-width="1.1"/>
<path d="M520.4,2016.1 L544.6,2035.1" fill="none" stroke="#000" stroke-width="1.1"/>
<path d="M525.6,2019.7 C527.5,2020.8 533.4,2023 537.3,2026.3 C541.2,2029.6 547,2037.3 549,2039.5" fill="none" stroke="#000" stroke-width="1.1"/>
<path d="M422.3,2007.2 L422.3,1885.1 L424.1,1873.7 L430,1865.5 L438,1861 L446.7,1862.7 L452,1869 L453.5,1878.1 L450.9,1883.7 L452.7,1895.9 L471.1,1916.5 L491.5,1961.8 L493.3,1972.3 L493.3,2024.6Z" fill="#fff"/>
<path d="M422.3,1984.5 L422.3,1885.1 C422.6,1883.2 422.8,1877 424.1,1873.7 C425.3,1870.5 427.7,1867.7 430,1865.5 C432.3,1863.4 435.2,1861.5 438,1861 C440.8,1860.5 444.4,1861.4 446.7,1862.7 C449.1,1864.1 450.8,1866.5 452,1869 C453.1,1871.6 453.3,1876.6 453.5,1878.1 L450.9,1883.7 L452.7,1895.9 L471.1,1916.5 L491.5,1961.8 C491.8,1962.5 492.7,1964.4 492.9,1966.2 C493.2,1967.9 493.2,1971.3 493.3,1972.3 L493.3,2017.6" fill="none" stroke="#000" stroke-width="0.9" stroke-dasharray="3 2.2"/>
<path d="M431.7,1868.5 L431.7,1884.7 L426.5,1892.9 L464.5,1980.1 L464.9,2007.2" fill="none" stroke="#000" stroke-width="0.9" stroke-dasharray="3 2.2"/>
<path d="M443.9,1865 L444.3,1910.4 L470.1,1972.3 L470.8,1988 L471,2007.2" fill="none" stroke="#000" stroke-width="0.9" stroke-dasharray="3 2.2"/>
<path d="M464.5,1919.1 L485.4,1963.6 L486.3,1975.8 L486.3,2024.6" fill="none" stroke="#000" stroke-width="0.9" stroke-dasharray="3 2.2"/>
<path d="M486.3,1974.9 L493.3,1971.4" fill="none" stroke="#000" stroke-width="0.9" stroke-dasharray="3 2.2"/>
<path d="M464.5,1980.1 L470.1,1972.3" fill="none" stroke="#000" stroke-width="0.9" stroke-dasharray="3 2.2"/>
<path d="M426.7,1867.1 C426.3,1868.6 424.8,1873.4 424.4,1876.4 C424,1879.3 423.7,1882.3 424.1,1885.1 C424.4,1887.8 426.1,1891.6 426.5,1892.9" fill="none" stroke="#000" stroke-width="0.9" stroke-dasharray="3 2.2"/>
<path d="M469.7,1989.7 C470.6,1990.6 473.8,1992.9 475,1995 C476.1,1997 477,2000 476.7,2001.9 C476.4,2003.8 473.8,2005.6 473.2,2006.3" fill="none" stroke="#000" stroke-width="0.9" stroke-dasharray="3 2.2"/>
<path d="M424,1981.3 L559.5,2059.2 C559.7,2059.9 560.8,2061.6 560.4,2063.4 C560,2065.3 559,2068.2 557,2070.2 C555,2072.2 551.9,2074.5 548.5,2075.3 C545.1,2076.1 540.2,2075.9 536.7,2075.3 C533.1,2074.7 528.9,2072.5 527.3,2071.9 L474,2084.6 C473.4,2084.5 471.2,2083.9 470.6,2083.8 L407.9,2047.3 C406.2,2044.9 399.9,2037.3 397.8,2033 C395.6,2028.6 395.1,2024.2 395.2,2021.1 C395.4,2018 398,2015.4 398.6,2014.3 L402,2012.6 C401.9,2010.4 400.7,2002.7 401.1,1999.1 C401.6,1995.4 402.8,1992.9 404.5,1990.6 C406.2,1988.3 409.1,1986.9 411.3,1985.5 C413.6,1984.1 416,1982.8 418.1,1982.1 C420.2,1981.4 423,1981.4 424,1981.3Z" fill="#fff" stroke="#000" stroke-width="2.2"/>
<path d="M409.6,1987.6 L548.5,2068 C549.7,2067.7 553.5,2067.4 555.3,2066 C557.1,2064.6 558.8,2060.8 559.5,2059.7" fill="none" stroke="#000" stroke-width="1.1"/>
<path d="M527.3,2071.9 C529.2,2071.6 534.8,2070.5 538.4,2069.9 C541.9,2069.2 546.8,2068.3 548.5,2068" fill="none" stroke="#000" stroke-width="1.1"/>
<ellipse cx="443.2" cy="2049.9" rx="9.8" ry="12.9" transform="rotate(-12 443.2 2049.9)" fill="none" stroke="#000" stroke-width="1.1"/>
<path d="M438.4,2066 L449.4,2072.3" fill="none" stroke="#000" stroke-width="0.9" stroke-dasharray="2 2"/>
<path d="M454.5,1900.5 L473.1,1890.3 C477.5,1894 491.4,1904.2 499.4,1912.7 C507.4,1921.2 514.6,1931 521.4,1941.5 C528.2,1951.9 534.7,1964.1 540.1,1975.4 C545.4,1986.6 550.6,2001.9 553.6,2009.2 C556.6,2016.6 557.1,2017.7 557.8,2019.4 L571.4,2005.8 L550.2,2048.2 L523.1,2033.8 L539.2,2027 C538.6,2024.1 538.5,2017.3 535.8,2009.2 C533.1,2001.2 528.1,1988.6 523.1,1978.7 C518.2,1968.9 512.4,1959 506.2,1949.9 C500,1940.9 492.6,1931.5 485.8,1924.5 C479.1,1917.6 470.7,1912.5 465.5,1908.4 C460.3,1904.4 456.3,1901.8 454.5,1900.5Z" fill="#000"/>
<path d="M876,2059.2 L616,2084 L876,2109.4Z" fill="#fff"/>
<path d="M875,2010 L875,2059.3 L616,2084 L875,2109.3 L875,2290" fill="none" stroke="#000" stroke-width="2.6"/>
</g>
<!-- p45_inset -->
<path d="M875,2061 L875,1743.6 L1552.5,1743.6 L1552.5,2290 L875,2290 L875,2108" fill="#fff" stroke="#000" stroke-width="3.2"/>
<path d="M875,2061 L875,1743.6 L1552.5,1743.6 L1552.5,2290 L875,2290 L875,2108" fill="none" stroke="#000" stroke-width="3.2" stroke-linejoin="miter" stroke-linecap="butt"/>
<rect x="873.4" y="2060.5" width="3.4" height="48" fill="#fff"/>
<path d="M1221.7,1743.6 L1221.7,2290" fill="none" stroke="#000" stroke-width="3.2"/>
<circle cx="952" cy="1835.9" r="49.8" fill="#1a171b"/>
<path d="M933,1816.9 L971,1854.9 M971,1816.9 L933,1854.9" stroke="#fff" stroke-width="13.2" fill="none" stroke-linecap="round"/>
<circle cx="1307.8" cy="1835.9" r="49.8" fill="#1a171b"/>
<path d="M1285.6,1837 L1302.2,1855.7 L1331.6,1816.1" stroke="#fff" stroke-width="13.2" fill="none" stroke-linecap="round" stroke-linejoin="round"/>
<path d="M1440.2,1894.7 L1440.2,1753" fill="none" stroke="#000" stroke-width="2.2"/>
<path d="M1495.4,1894.7 L1495.4,1753" fill="none" stroke="#000" stroke-width="1.1"/>
<path d="M1512.9,1894.7 L1512.9,1753" fill="none" stroke="#000" stroke-width="2.2"/>
<path d="M1380,1956.1 L1380,1922.2 Q1380,1914.4 1387.8,1914.4 L1398.1,1914.4 Q1405.6,1914.4 1405.6,1922.2 L1405.6,1956.1 L1399.7,1956.1 L1399.7,1923.2 Q1399.7,1919.6 1396.1,1919.6 L1388.8,1919.6 Q1385.4,1919.6 1385.4,1923.2 L1385.4,1956.1 Z" fill="#9a9a9a" stroke="#1a1a1a" stroke-width="1.3"/>
<path d="M1380.3,1935.2 A6.2,6.4 0 0 0 1380.3,1947.8 Z" fill="#9a9a9a" stroke="#1a1a1a" stroke-width="1.2"/>
<path d="M1386.7,1956.1 L1386.7,1930.7 Q1386.7,1928.9 1388.6,1928.9 L1399.7,1928.9 L1399.7,1956.1 Z" fill="#9a9a9a" stroke="#1a1a1a" stroke-width="1.2"/>
<path d="M1386.7,1931.5 L1399.7,1931.5" fill="none" stroke="#1a1a1a" stroke-width="1"/>
<rect x="1405.6" y="1936.7" width="2.4" height="11.4" fill="#9a9a9a" stroke="#1a1a1a" stroke-width="1"/>
<rect x="1408" y="1928.9" width="6.2" height="27.2" fill="#9a9a9a" stroke="#1a1a1a" stroke-width="1"/>
<clipPath id="cph0"><path d="M1413.9,1915.6 L1431.7,1915.6 L1431.7,2058.7 L1362.8,2058.7 L1362.8,1956.3 L1413.9,1956.3Z"/></clipPath><g clip-path="url(#cph0)">
<rect x="1385.4" y="1952.3" width="36.1" height="64.9" fill="#d6d6d6"/>
<rect x="1378.9" y="2017.2" width="48.8" height="31.1" fill="#d6d6d6"/>
<rect x="1414.2" y="1928.9" width="7.3" height="27.5" fill="#d6d6d6"/>
<path d="M1385.4,1952.3 L1385.4,2017.2" fill="none" stroke="#b4b4b4" stroke-width="0.8"/>
<path d="M1421.5,1931.5 L1421.5,2017.2" fill="none" stroke="#b4b4b4" stroke-width="0.8"/>
<path d="M1378.9,2048.3 L1378.9,2017.2 L1427.7,2017.2 L1427.7,2048.3 L1378.9,2048.3" fill="none" stroke="#b4b4b4" stroke-width="0.8"/>
<path d="M1383.6,2048.3 L1383.6,2026.5 L1423.1,2026.5 L1423.1,2048.3" fill="none" stroke="#b4b4b4" stroke-width="0.8"/>
<rect x="1399.7" y="1952.3" width="8.3" height="40.5" fill="#fff" stroke="#b4b4b4" stroke-width="0.8"/>
<rect x="1421" y="1936.7" width="3.6" height="10.4" rx="1.2" fill="#d6d6d6" stroke="#b4b4b4" stroke-width="0.8"/>
</g>
<rect x="1408.5" y="2023.9" width="19.2" height="6.2" fill="#9a9a9a" stroke="#1a1a1a" stroke-width="1"/>
<path d="M1431.7,2281 L1431.7,1894.7 L1520.1,1894.7 L1520.1,2281" fill="#fff"/>
<path d="M1431.7,1920.1 C1431.5,1919.6 1431.7,1917.8 1430.8,1917 C1430,1916.2 1427.4,1915.7 1426.7,1915.4 L1417.9,1915.4 C1417.3,1915.7 1415.2,1916 1414.5,1916.8 C1413.9,1917.6 1413.9,1919.6 1413.7,1920.1 L1413.7,1952.3 C1413.5,1952.8 1413.4,1954.6 1412.7,1955.2 C1412,1955.8 1410.1,1956 1409.6,1956.1 L1366.5,1956.1 C1366,1956.4 1364.3,1956.7 1363.7,1957.5 C1363,1958.2 1362.8,1960.1 1362.6,1960.6 L1362.6,2055.1 C1362.8,2055.5 1363,2057.1 1363.7,2057.7 C1364.3,2058.3 1366,2058.5 1366.5,2058.7 L1394.5,2058.7 L1408,2023.4" fill="none" stroke="#000" stroke-width="2.3"/>
<path d="M1408,2023.4 L1429.3,2023.4" fill="none" stroke="#000" stroke-width="2.4"/>
<path d="M1406.4,2031.2 L1429.3,2031.2" fill="none" stroke="#000" stroke-width="2.2"/>
<path d="M1431.7,1999.5 C1430.2,2000 1425.9,2000.7 1423.1,2002.1 C1420.2,2003.6 1416.8,2005.9 1414.8,2008.4 C1412.7,2010.8 1411.5,2014.2 1410.6,2016.7 C1409.6,2019.2 1409.3,2022.3 1409,2023.4" fill="none" stroke="#000" stroke-width="1.4"/>
<path d="M1363.4,1970.5 L1431.7,1970.5" fill="none" stroke="#000" stroke-width="1.1"/>
<path d="M1377.4,2058.7 L1377.4,1995.4 L1430.3,1995.4" fill="none" stroke="#1a1a1a" stroke-width="1.2" stroke-dasharray="4.2 2.6"/>
<path d="M1400.2,2048.3 L1429.3,2048.3" fill="none" stroke="#1a1a1a" stroke-width="1.2" stroke-dasharray="4.2 2.6"/>
<path d="M1361.3,2059.4 L1361.3,2262.2 L1429.3,2262.2 L1429.3,2031.2" fill="none" stroke="#000" stroke-width="1.6"/>
<path d="M1361.3,2059.4 L1394.5,2059.4" fill="none" stroke="#000" stroke-width="1.6"/>
<path d="M1431.7,2281 L1431.7,1894.7 L1520.1,1894.7 L1520.1,2281" fill="none" stroke="#000" stroke-width="2.2"/>
<path d="M1106.5,1894.7 L1106.5,1753" fill="none" stroke="#000" stroke-width="2.2"/>
<path d="M1161.7,1894.7 L1161.7,1753" fill="none" stroke="#000" stroke-width="1.1"/>
<path d="M1179.2,1894.7 L1179.2,1753" fill="none" stroke="#000" stroke-width="2.2"/>
<path d="M1047.2,1955.7 L1047.2,1826 Q1047.2,1813.3 1059.8,1813.3 Q1072.6,1813.3 1072.6,1826 L1072.6,1955.7 Z" fill="#9a9a9a" stroke="#1a1a1a" stroke-width="1.3"/>
<path d="M1047.4,1916.5 A6.2,6.4 0 0 0 1047.4,1929.5 Z" fill="#9a9a9a" stroke="#1a1a1a" stroke-width="1.2"/>
<path d="M1052.4,1955.7 L1052.4,1824.9 Q1052.6,1816.6 1055.7,1813.8" fill="none" stroke="#1a1a1a" stroke-width="1.2"/>
<path d="M1066.6,1955.7 L1066.6,1824.9 Q1066.4,1816.6 1063.5,1813.8" fill="none" stroke="#1a1a1a" stroke-width="1.2"/>
<path d="M1047.2,1830.4 L1052.4,1830.4" fill="none" stroke="#1a1a1a" stroke-width="1.1"/>
<path d="M1066.6,1830.4 L1072.6,1830.4" fill="none" stroke="#1a1a1a" stroke-width="1.1"/>
<path d="M1047.2,1879.9 L1052.4,1879.9" fill="none" stroke="#1a1a1a" stroke-width="1.1"/>
<path d="M1066.6,1879.9 L1072.6,1879.9" fill="none" stroke="#1a1a1a" stroke-width="1.1"/>
<path d="M1047.2,1941.7 L1052.4,1941.7" fill="none" stroke="#1a1a1a" stroke-width="1.1"/>
<path d="M1066.6,1941.7 L1072.6,1941.7" fill="none" stroke="#1a1a1a" stroke-width="1.1"/>
<path d="M1053.1,1955.7 L1053.1,1911.6 L1055.2,1909.5 L1066.6,1909.5" fill="none" stroke="#1a1a1a" stroke-width="1.1"/>
<path d="M1053.1,1912.1 L1066.6,1912.1" fill="none" stroke="#1a1a1a" stroke-width="1"/>
<path d="M1053.1,1949.5 L1066.6,1949.5" fill="none" stroke="#1a1a1a" stroke-width="1"/>
<rect x="1072.6" y="1917.3" width="2.3" height="11.9" fill="#9a9a9a" stroke="#1a1a1a" stroke-width="1"/>
<path d="M1074.9,1955.7 L1074.9,1909.5 L1085.8,1909.5 L1088.4,1913.2 L1088.4,1955.7 L1074.9,1955.7 Z" fill="#9a9a9a" stroke="#1a1a1a" stroke-width="1.0"/>
<path d="M1074.9,1912.1 L1087.3,1912.1" fill="none" stroke="#1a1a1a" stroke-width="1"/>
<clipPath id="cph333"><path d="M1080.2,1915.6 L1098,1915.6 L1098,2058.7 L1029.1,2058.7 L1029.1,1956.3 L1080.2,1956.3Z"/></clipPath><g clip-path="url(#cph333)">
<rect x="1051.7" y="1933.3" width="36.1" height="64.9" fill="#d6d6d6"/>
<rect x="1045.2" y="1998.2" width="48.8" height="31.1" fill="#d6d6d6"/>
<rect x="1080.5" y="1909.9" width="7.3" height="27.5" fill="#d6d6d6"/>
<path d="M1051.7,1933.3 L1051.7,1998.2" fill="none" stroke="#b4b4b4" stroke-width="0.8"/>
<path d="M1087.8,1912.5 L1087.8,1998.2" fill="none" stroke="#b4b4b4" stroke-width="0.8"/>
<path d="M1045.2,2029.3 L1045.2,1998.2 L1094,1998.2 L1094,2029.3 L1045.2,2029.3" fill="none" stroke="#b4b4b4" stroke-width="0.8"/>
<path d="M1049.9,2029.3 L1049.9,2007.5 L1089.4,2007.5 L1089.4,2029.3" fill="none" stroke="#b4b4b4" stroke-width="0.8"/>
<rect x="1066" y="1933.3" width="8.3" height="40.5" fill="#fff" stroke="#b4b4b4" stroke-width="0.8"/>
<rect x="1087.3" y="1917.7" width="3.6" height="10.4" rx="1.2" fill="#d6d6d6" stroke="#b4b4b4" stroke-width="0.8"/>
</g>
<rect x="1074.8" y="2023.9" width="19.2" height="6.2" fill="#9a9a9a" stroke="#1a1a1a" stroke-width="1"/>
<path d="M1098,2281 L1098,1894.7 L1186.4,1894.7 L1186.4,2281" fill="#fff"/>
<path d="M1098,1920.1 C1097.8,1919.6 1098,1917.8 1097.1,1917 C1096.3,1916.2 1093.7,1915.7 1093,1915.4 L1084.2,1915.4 C1083.6,1915.7 1081.5,1916 1080.8,1916.8 C1080.2,1917.6 1080.2,1919.6 1080,1920.1 L1080,1952.3 C1079.8,1952.8 1079.7,1954.6 1079,1955.2 C1078.3,1955.8 1076.4,1956 1075.9,1956.1 L1032.8,1956.1 C1032.3,1956.4 1030.6,1956.7 1030,1957.5 C1029.3,1958.2 1029.1,1960.1 1028.9,1960.6 L1028.9,2055.1 C1029.1,2055.5 1029.3,2057.1 1030,2057.7 C1030.6,2058.3 1032.3,2058.5 1032.8,2058.7 L1060.8,2058.7 L1074.3,2023.4" fill="none" stroke="#000" stroke-width="2.3"/>
<path d="M1074.3,2023.4 L1095.6,2023.4" fill="none" stroke="#000" stroke-width="2.4"/>
<path d="M1072.7,2031.2 L1095.6,2031.2" fill="none" stroke="#000" stroke-width="2.2"/>
<path d="M1098,1999.5 C1096.5,2000 1092.2,2000.7 1089.4,2002.1 C1086.5,2003.6 1083.1,2005.9 1081.1,2008.4 C1079,2010.8 1077.8,2014.2 1076.9,2016.7 C1075.9,2019.2 1075.6,2022.3 1075.3,2023.4" fill="none" stroke="#000" stroke-width="1.4"/>
<path d="M1029.7,1970.5 L1098,1970.5" fill="none" stroke="#000" stroke-width="1.1"/>
<path d="M1043.7,2058.7 L1043.7,1995.4 L1096.6,1995.4" fill="none" stroke="#1a1a1a" stroke-width="1.2" stroke-dasharray="4.2 2.6"/>
<path d="M1066.5,2048.3 L1095.6,2048.3" fill="none" stroke="#1a1a1a" stroke-width="1.2" stroke-dasharray="4.2 2.6"/>
<path d="M1029.7,2059.4 L1029.7,2262.2 L1098,2262.2" fill="none" stroke="#000" stroke-width="1.6"/>
<path d="M1029.7,2059.4 L1060.8,2059.4" fill="none" stroke="#000" stroke-width="1.6"/>
<path d="M1098,2281 L1098,1894.7 L1186.4,1894.7 L1186.4,2281" fill="none" stroke="#000" stroke-width="2.2"/>
<!-- p50_D -->
<path d="M1706.6,1827 L1925.5,1953.4 L1925.5,1988.5 L1954.2,2005.9 L1985.3,1987.7 L2215.5,2121 L2215.5,2513 L2102.4,2578.4 L1706.6,2350.2Z" fill="#fff"/>
<path d="M1706.6,1827 L1925.5,1953.4 L1925.5,1988.5 L1954.2,2005.9 L1985.3,1987.7 L2215.5,2121 L2215.5,2513 L2102.4,2578.4 L1706.6,2350.2" fill="none" stroke="#000" stroke-width="2.2"/>
<path d="M1706.6,1958.3 L2154.9,2213.5" fill="none" stroke="#000" stroke-width="1.1"/>
<path d="M1706.6,2014.8 L2102.4,2242.1" fill="none" stroke="#000" stroke-width="1.1"/>
<path d="M2102.4,2242.1 L2102.4,2578.4" fill="none" stroke="#000" stroke-width="1.1"/>
<path d="M2102.4,2242.1 L2150.8,2215.9 C2151.5,2215.2 2153.7,2214.1 2154.9,2211.9 C2156,2209.6 2157.2,2204.1 2157.7,2202.6 L2173,2145.2 L2215.5,2121" fill="none" stroke="#000" stroke-width="1.1"/>
<path d="M1944.9,2014 L2173,2145.2" fill="none" stroke="#000" stroke-width="1.1"/>
<path d="M1925.5,1953.4 L1882.3,1978.4 L1872.2,2018 L1932.8,2054.4 L1944.9,2014 L1954.2,2005.9" fill="none" stroke="#000" stroke-width="1.1"/>
<path d="M1872.2,2018 L1925.5,1988.5" fill="none" stroke="#000" stroke-width="1.1"/>
<ellipse cx="2093.5" cy="2206.6" rx="17.4" ry="10.5" transform="rotate(0 2093.5 2206.6)" fill="none" stroke="#000" stroke-width="1.1"/>
<path d="M2094,1938.2 L2094,2206" fill="none" stroke="#000" stroke-width="1.1"/>
<path d="M2072,1871.1 L2072,1920.5 A22.4,14 0 0 0 2116.7,1920.5 L2116.7,1871.1" fill="#fff" stroke="#000" stroke-width="2.2"/>
<path d="M2058.9,1820.9 L2058.9,1855.6 A35.4,19.3 0 0 0 2129.7,1855.6 L2129.7,1820.9 A35.4,20.7 0 0 0 2058.9,1820.9 Z" fill="#fff" stroke="#000" stroke-width="2.2"/>
<ellipse cx="2094.3" cy="1820.9" rx="35.4" ry="20.7" transform="rotate(0 2094.3 1820.9)" fill="none" stroke="#000" stroke-width="2.2"/>
<ellipse cx="2094.3" cy="1821.7" rx="31.7" ry="17.8" transform="rotate(0 2094.3 1821.7)" fill="none" stroke="#000" stroke-width="1.1"/>
<path d="M2059.4,1828.9 A35.4,14.9 0 0 0 2129.2,1828.9" fill="none" stroke="#000" stroke-width="1.1"/>
<path d="M2076.2,1821.6 L2081,1812 L2098,1809.1 L2112,1816.9 L2107.6,1826.8 L2089.1,1829.8Z" fill="none" stroke="#000" stroke-width="1.1"/>
<path d="M2081.5,1812.3 L2081.5,1823.9" fill="none" stroke="#000" stroke-width="1.1"/>
<path d="M2098.3,1809.3 L2098.3,1827.9" fill="none" stroke="#000" stroke-width="1.1"/>
<path d="M1994,1842.3 L2038,1842.3" fill="none" stroke="#000" stroke-width="1.1"/>
<circle cx="1951.7" cy="1842.6" r="41.2" fill="#fff" stroke="#000" stroke-width="2.2"/>
<text transform="translate(1951.7 1859.3) scale(1.000 1)" font-size="50" font-weight="bold" text-anchor="middle">2</text>
</svg>
</body></html>
